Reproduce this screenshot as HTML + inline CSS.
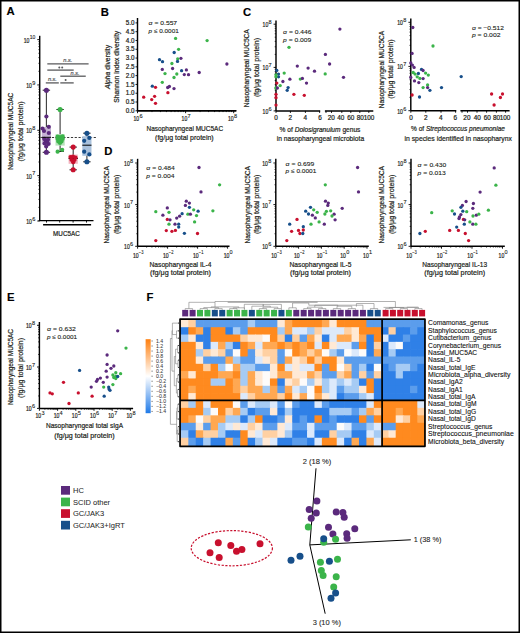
<!DOCTYPE html><html><head><meta charset="utf-8"><style>html,body{margin:0;padding:0;background:#fff;}svg{display:block;font-family:"Liberation Sans",sans-serif;}</style></head><body>
<svg width="520" height="633" viewBox="0 0 520 633">
<rect x="0" y="0" width="520" height="633" fill="#fff"/>
<g fill="#231f20" stroke-linejoin="round">
<text x="6.40" y="14.80" font-size="11.3" font-weight="bold" fill="#000" stroke="#000" stroke-width="0.15">A</text>
<text x="100.80" y="15.50" font-size="11.3" font-weight="bold" fill="#000" stroke="#000" stroke-width="0.15">B</text>
<text x="243.00" y="15.70" font-size="11.3" font-weight="bold" fill="#000" stroke="#000" stroke-width="0.15">C</text>
<text x="104.20" y="155.20" font-size="11.3" font-weight="bold" fill="#000" stroke="#000" stroke-width="0.15">D</text>
<text x="7.00" y="301.20" font-size="11.3" font-weight="bold" fill="#000" stroke="#000" stroke-width="0.15">E</text>
<text x="146.40" y="301.00" font-size="11.3" font-weight="bold" fill="#000" stroke="#000" stroke-width="0.15">F</text>
<line x1="39.70" y1="35.80" x2="39.70" y2="221.00" stroke="#000" stroke-width="1.45" />
<line x1="37.30" y1="39.60" x2="39.70" y2="39.60" stroke="#000" stroke-width="0.9" />
<line x1="37.30" y1="84.95" x2="39.70" y2="84.95" stroke="#000" stroke-width="0.9" />
<line x1="37.30" y1="130.30" x2="39.70" y2="130.30" stroke="#000" stroke-width="0.9" />
<line x1="37.30" y1="175.65" x2="39.70" y2="175.65" stroke="#000" stroke-width="0.9" />
<line x1="37.30" y1="221.00" x2="39.70" y2="221.00" stroke="#000" stroke-width="0.9" />
<line x1="38.40" y1="71.30" x2="39.70" y2="71.30" stroke="#000" stroke-width="0.75" />
<line x1="38.40" y1="63.31" x2="39.70" y2="63.31" stroke="#000" stroke-width="0.75" />
<line x1="38.40" y1="57.65" x2="39.70" y2="57.65" stroke="#000" stroke-width="0.75" />
<line x1="38.40" y1="53.25" x2="39.70" y2="53.25" stroke="#000" stroke-width="0.75" />
<line x1="38.40" y1="49.66" x2="39.70" y2="49.66" stroke="#000" stroke-width="0.75" />
<line x1="38.40" y1="46.62" x2="39.70" y2="46.62" stroke="#000" stroke-width="0.75" />
<line x1="38.40" y1="43.99" x2="39.70" y2="43.99" stroke="#000" stroke-width="0.75" />
<line x1="38.40" y1="41.68" x2="39.70" y2="41.68" stroke="#000" stroke-width="0.75" />
<line x1="38.40" y1="116.65" x2="39.70" y2="116.65" stroke="#000" stroke-width="0.75" />
<line x1="38.40" y1="108.66" x2="39.70" y2="108.66" stroke="#000" stroke-width="0.75" />
<line x1="38.40" y1="103.00" x2="39.70" y2="103.00" stroke="#000" stroke-width="0.75" />
<line x1="38.40" y1="98.60" x2="39.70" y2="98.60" stroke="#000" stroke-width="0.75" />
<line x1="38.40" y1="95.01" x2="39.70" y2="95.01" stroke="#000" stroke-width="0.75" />
<line x1="38.40" y1="91.97" x2="39.70" y2="91.97" stroke="#000" stroke-width="0.75" />
<line x1="38.40" y1="89.34" x2="39.70" y2="89.34" stroke="#000" stroke-width="0.75" />
<line x1="38.40" y1="87.03" x2="39.70" y2="87.03" stroke="#000" stroke-width="0.75" />
<line x1="38.40" y1="162.00" x2="39.70" y2="162.00" stroke="#000" stroke-width="0.75" />
<line x1="38.40" y1="154.01" x2="39.70" y2="154.01" stroke="#000" stroke-width="0.75" />
<line x1="38.40" y1="148.35" x2="39.70" y2="148.35" stroke="#000" stroke-width="0.75" />
<line x1="38.40" y1="143.95" x2="39.70" y2="143.95" stroke="#000" stroke-width="0.75" />
<line x1="38.40" y1="140.36" x2="39.70" y2="140.36" stroke="#000" stroke-width="0.75" />
<line x1="38.40" y1="137.32" x2="39.70" y2="137.32" stroke="#000" stroke-width="0.75" />
<line x1="38.40" y1="134.69" x2="39.70" y2="134.69" stroke="#000" stroke-width="0.75" />
<line x1="38.40" y1="132.38" x2="39.70" y2="132.38" stroke="#000" stroke-width="0.75" />
<line x1="38.40" y1="207.35" x2="39.70" y2="207.35" stroke="#000" stroke-width="0.75" />
<line x1="38.40" y1="199.36" x2="39.70" y2="199.36" stroke="#000" stroke-width="0.75" />
<line x1="38.40" y1="193.70" x2="39.70" y2="193.70" stroke="#000" stroke-width="0.75" />
<line x1="38.40" y1="189.30" x2="39.70" y2="189.30" stroke="#000" stroke-width="0.75" />
<line x1="38.40" y1="185.71" x2="39.70" y2="185.71" stroke="#000" stroke-width="0.75" />
<line x1="38.40" y1="182.67" x2="39.70" y2="182.67" stroke="#000" stroke-width="0.75" />
<line x1="38.40" y1="180.04" x2="39.70" y2="180.04" stroke="#000" stroke-width="0.75" />
<line x1="38.40" y1="177.73" x2="39.70" y2="177.73" stroke="#000" stroke-width="0.75" />
<text x="23.75" y="42.50" font-size="6.9" textLength="5.70" lengthAdjust="spacingAndGlyphs" stroke="#231f20" stroke-width="0.22">10</text>
<text x="29.70" y="39.40" font-size="5.0" textLength="5.60" lengthAdjust="spacingAndGlyphs" stroke="#231f20" stroke-width="0.1">10</text>
<text x="26.25" y="87.85" font-size="6.9" textLength="5.70" lengthAdjust="spacingAndGlyphs" stroke="#231f20" stroke-width="0.22">10</text>
<text x="32.20" y="84.75" font-size="5.0" textLength="3.10" lengthAdjust="spacingAndGlyphs" stroke="#231f20" stroke-width="0.1">9</text>
<text x="26.25" y="133.20" font-size="6.9" textLength="5.70" lengthAdjust="spacingAndGlyphs" stroke="#231f20" stroke-width="0.22">10</text>
<text x="32.20" y="130.10" font-size="5.0" textLength="3.10" lengthAdjust="spacingAndGlyphs" stroke="#231f20" stroke-width="0.1">8</text>
<text x="26.25" y="178.55" font-size="6.9" textLength="5.70" lengthAdjust="spacingAndGlyphs" stroke="#231f20" stroke-width="0.22">10</text>
<text x="32.20" y="175.45" font-size="5.0" textLength="3.10" lengthAdjust="spacingAndGlyphs" stroke="#231f20" stroke-width="0.1">7</text>
<text x="26.25" y="223.90" font-size="6.9" textLength="5.70" lengthAdjust="spacingAndGlyphs" stroke="#231f20" stroke-width="0.22">10</text>
<text x="32.20" y="220.80" font-size="5.0" textLength="3.10" lengthAdjust="spacingAndGlyphs" stroke="#231f20" stroke-width="0.1">6</text>
<text x="13.40" y="131.20" font-size="7.8" text-anchor="middle" textLength="77.00" lengthAdjust="spacingAndGlyphs" transform="rotate(-90 13.40 131.20)" stroke="#231f20" stroke-width="0.22">Nasopharyngeal MUC5AC</text>
<text x="23.30" y="131.40" font-size="7.8" text-anchor="middle" textLength="60.00" lengthAdjust="spacingAndGlyphs" transform="rotate(-90 23.30 131.40)" stroke="#231f20" stroke-width="0.22">(fg/μg total protein)</text>
<line x1="38.60" y1="220.60" x2="93.50" y2="220.60" stroke="#000" stroke-width="1.45" />
<line x1="46.50" y1="220.60" x2="46.50" y2="222.60" stroke="#000" stroke-width="0.9" />
<line x1="59.70" y1="220.60" x2="59.70" y2="222.60" stroke="#000" stroke-width="0.9" />
<line x1="73.10" y1="220.60" x2="73.10" y2="222.60" stroke="#000" stroke-width="0.9" />
<line x1="86.50" y1="220.60" x2="86.50" y2="222.60" stroke="#000" stroke-width="0.9" />
<line x1="43.10" y1="224.80" x2="91.10" y2="224.80" stroke="#000" stroke-width="1.4" />
<text x="66.40" y="235.60" font-size="7.2" text-anchor="middle" textLength="26.60" lengthAdjust="spacingAndGlyphs" stroke="#231f20" stroke-width="0.22">MUC5AC</text>
<line x1="47.30" y1="63.80" x2="88.60" y2="63.80" stroke="#58595b" stroke-width="1.3" />
<line x1="47.30" y1="70.10" x2="73.70" y2="70.10" stroke="#58595b" stroke-width="1.3" />
<line x1="60.30" y1="76.20" x2="85.75" y2="76.20" stroke="#58595b" stroke-width="1.3" />
<line x1="45.80" y1="82.90" x2="58.80" y2="82.90" stroke="#58595b" stroke-width="1.3" />
<line x1="60.30" y1="82.90" x2="73.70" y2="82.90" stroke="#58595b" stroke-width="1.3" />
<text x="67.80" y="62.20" font-size="6.0" text-anchor="middle" textLength="9.00" lengthAdjust="spacingAndGlyphs" font-style="italic" fill="#58595b" stroke="#58595b" stroke-width="0.22">n.s.</text>
<text x="75.10" y="74.70" font-size="6.0" text-anchor="middle" textLength="9.00" lengthAdjust="spacingAndGlyphs" font-style="italic" fill="#58595b" stroke="#58595b" stroke-width="0.22">n.s.</text>
<text x="52.40" y="81.20" font-size="6.0" text-anchor="middle" textLength="9.00" lengthAdjust="spacingAndGlyphs" font-style="italic" fill="#58595b" stroke="#58595b" stroke-width="0.22">n.s.</text>
<circle cx="59.3" cy="67.6" r="1.0" fill="#58595b"/>
<circle cx="62.2" cy="67.6" r="1.0" fill="#58595b"/>
<circle cx="65.6" cy="79.9" r="1.0" fill="#58595b"/>
<line x1="40.50" y1="137.50" x2="97.00" y2="137.50" stroke="#222" stroke-width="0.9" stroke-dasharray="2.2 1.6"/>
<line x1="46.40" y1="90.20" x2="46.40" y2="152.30" stroke="#3a3a3a" stroke-width="1.1" />
<line x1="42.70" y1="90.20" x2="50.10" y2="90.20" stroke="#222" stroke-width="1.0" />
<line x1="42.70" y1="152.30" x2="50.10" y2="152.30" stroke="#222" stroke-width="1.0" />
<rect x="41.80" y="127.00" width="9.2" height="17.50" fill="#c6b3d4"/>
<line x1="60.10" y1="109.50" x2="60.10" y2="151.50" stroke="#3a3a3a" stroke-width="1.1" />
<line x1="56.40" y1="109.50" x2="63.80" y2="109.50" stroke="#222" stroke-width="1.0" />
<line x1="56.40" y1="151.50" x2="63.80" y2="151.50" stroke="#222" stroke-width="1.0" />
<rect x="55.50" y="134.20" width="9.2" height="11.40" fill="#b7e2bb"/>
<line x1="55.50" y1="137.80" x2="64.70" y2="137.80" stroke="#000" stroke-width="1.0" />
<line x1="73.20" y1="147.10" x2="73.20" y2="169.80" stroke="#3a3a3a" stroke-width="1.1" />
<line x1="69.50" y1="147.10" x2="76.90" y2="147.10" stroke="#222" stroke-width="1.0" />
<line x1="69.50" y1="169.80" x2="76.90" y2="169.80" stroke="#222" stroke-width="1.0" />
<rect x="68.60" y="154.60" width="9.2" height="9.20" fill="#f2b3bf"/>
<line x1="68.60" y1="158.50" x2="77.80" y2="158.50" stroke="#000" stroke-width="1.0" />
<line x1="86.90" y1="133.20" x2="86.90" y2="161.80" stroke="#3a3a3a" stroke-width="1.1" />
<line x1="83.20" y1="133.20" x2="90.60" y2="133.20" stroke="#222" stroke-width="1.0" />
<line x1="83.20" y1="161.80" x2="90.60" y2="161.80" stroke="#222" stroke-width="1.0" />
<rect x="82.30" y="136.20" width="9.2" height="19.60" fill="#a9c1dc"/>
<circle cx="46.40" cy="116.50" r="2.1" fill="#5b2a7c"/>
<circle cx="42.50" cy="128.50" r="2.1" fill="#5b2a7c"/>
<circle cx="44.00" cy="131.00" r="2.1" fill="#5b2a7c"/>
<circle cx="48.80" cy="126.80" r="2.1" fill="#5b2a7c"/>
<circle cx="48.80" cy="133.00" r="2.1" fill="#5b2a7c"/>
<circle cx="45.50" cy="140.50" r="2.1" fill="#5b2a7c"/>
<circle cx="47.30" cy="142.00" r="2.1" fill="#5b2a7c"/>
<circle cx="44.60" cy="143.50" r="2.1" fill="#5b2a7c"/>
<circle cx="48.50" cy="144.00" r="2.1" fill="#5b2a7c"/>
<circle cx="46.20" cy="146.50" r="2.1" fill="#5b2a7c"/>
<circle cx="44.20" cy="138.80" r="2.1" fill="#5b2a7c"/>
<circle cx="48.00" cy="139.50" r="2.1" fill="#5b2a7c"/>
<circle cx="46.40" cy="90.20" r="2.55" fill="#5b2a7c"/>
<circle cx="46.40" cy="152.30" r="2.55" fill="#5b2a7c"/>
<circle cx="57.60" cy="136.60" r="2.1" fill="#3bb44a"/>
<circle cx="60.00" cy="137.20" r="2.1" fill="#3bb44a"/>
<circle cx="62.60" cy="136.40" r="2.1" fill="#3bb44a"/>
<circle cx="57.60" cy="139.00" r="2.1" fill="#3bb44a"/>
<circle cx="60.40" cy="139.80" r="2.1" fill="#3bb44a"/>
<circle cx="62.60" cy="139.00" r="2.1" fill="#3bb44a"/>
<circle cx="58.30" cy="141.40" r="2.1" fill="#3bb44a"/>
<circle cx="61.50" cy="141.50" r="2.1" fill="#3bb44a"/>
<circle cx="60.00" cy="143.00" r="2.1" fill="#3bb44a"/>
<circle cx="57.60" cy="151.70" r="2.1" fill="#3bb44a"/>
<circle cx="62.20" cy="149.80" r="2.1" fill="#3bb44a"/>
<circle cx="60.10" cy="109.50" r="2.55" fill="#3bb44a"/>
<circle cx="70.50" cy="157.00" r="2.1" fill="#c8102e"/>
<circle cx="73.00" cy="156.50" r="2.1" fill="#c8102e"/>
<circle cx="75.50" cy="157.50" r="2.1" fill="#c8102e"/>
<circle cx="71.50" cy="159.80" r="2.1" fill="#c8102e"/>
<circle cx="74.50" cy="160.00" r="2.1" fill="#c8102e"/>
<circle cx="73.20" cy="162.30" r="2.1" fill="#c8102e"/>
<circle cx="73.20" cy="147.10" r="2.55" fill="#c8102e"/>
<circle cx="73.20" cy="169.80" r="2.55" fill="#c8102e"/>
<circle cx="89.30" cy="137.90" r="2.1" fill="#174f8a"/>
<circle cx="84.20" cy="140.80" r="2.1" fill="#174f8a"/>
<circle cx="84.20" cy="151.70" r="2.1" fill="#174f8a"/>
<circle cx="89.30" cy="154.40" r="2.1" fill="#174f8a"/>
<circle cx="86.90" cy="133.20" r="2.55" fill="#174f8a"/>
<circle cx="86.90" cy="161.80" r="2.55" fill="#174f8a"/>
<line x1="41.80" y1="137.30" x2="51.00" y2="137.30" stroke="#000" stroke-width="1.0" />
<line x1="82.30" y1="145.20" x2="91.50" y2="145.20" stroke="#000" stroke-width="1.0" />
<line x1="137.50" y1="18.00" x2="137.50" y2="110.80" stroke="#000" stroke-width="1.45" />
<line x1="137.50" y1="110.80" x2="236.30" y2="110.80" stroke="#000" stroke-width="1.45" />
<line x1="135.50" y1="110.80" x2="137.50" y2="110.80" stroke="#000" stroke-width="0.9" />
<text x="134.60" y="113.00" font-size="6.3" text-anchor="end" stroke="#231f20" stroke-width="0.22">0.0</text>
<line x1="135.50" y1="102.01" x2="137.50" y2="102.01" stroke="#000" stroke-width="0.9" />
<text x="134.60" y="104.21" font-size="6.3" text-anchor="end" stroke="#231f20" stroke-width="0.22">0.5</text>
<line x1="135.50" y1="93.22" x2="137.50" y2="93.22" stroke="#000" stroke-width="0.9" />
<text x="134.60" y="95.42" font-size="6.3" text-anchor="end" stroke="#231f20" stroke-width="0.22">1.0</text>
<line x1="135.50" y1="84.43" x2="137.50" y2="84.43" stroke="#000" stroke-width="0.9" />
<text x="134.60" y="86.63" font-size="6.3" text-anchor="end" stroke="#231f20" stroke-width="0.22">1.5</text>
<line x1="135.50" y1="75.64" x2="137.50" y2="75.64" stroke="#000" stroke-width="0.9" />
<text x="134.60" y="77.84" font-size="6.3" text-anchor="end" stroke="#231f20" stroke-width="0.22">2.0</text>
<line x1="135.50" y1="66.85" x2="137.50" y2="66.85" stroke="#000" stroke-width="0.9" />
<text x="134.60" y="69.05" font-size="6.3" text-anchor="end" stroke="#231f20" stroke-width="0.22">2.5</text>
<line x1="135.50" y1="58.06" x2="137.50" y2="58.06" stroke="#000" stroke-width="0.9" />
<text x="134.60" y="60.26" font-size="6.3" text-anchor="end" stroke="#231f20" stroke-width="0.22">3.0</text>
<line x1="135.50" y1="49.27" x2="137.50" y2="49.27" stroke="#000" stroke-width="0.9" />
<text x="134.60" y="51.47" font-size="6.3" text-anchor="end" stroke="#231f20" stroke-width="0.22">3.5</text>
<line x1="135.50" y1="40.48" x2="137.50" y2="40.48" stroke="#000" stroke-width="0.9" />
<text x="134.60" y="42.68" font-size="6.3" text-anchor="end" stroke="#231f20" stroke-width="0.22">4.0</text>
<line x1="135.50" y1="31.69" x2="137.50" y2="31.69" stroke="#000" stroke-width="0.9" />
<text x="134.60" y="33.89" font-size="6.3" text-anchor="end" stroke="#231f20" stroke-width="0.22">4.5</text>
<line x1="135.50" y1="22.90" x2="137.50" y2="22.90" stroke="#000" stroke-width="0.9" />
<text x="134.60" y="25.10" font-size="6.3" text-anchor="end" stroke="#231f20" stroke-width="0.22">5.0</text>
<line x1="137.50" y1="110.80" x2="236.30" y2="110.80" stroke="#000" stroke-width="1.45" />
<line x1="137.50" y1="110.80" x2="137.50" y2="113.20" stroke="#000" stroke-width="0.9" />
<line x1="185.60" y1="110.80" x2="185.60" y2="113.20" stroke="#000" stroke-width="0.9" />
<line x1="233.70" y1="110.80" x2="233.70" y2="113.20" stroke="#000" stroke-width="0.9" />
<line x1="151.98" y1="110.80" x2="151.98" y2="112.10" stroke="#000" stroke-width="0.75" />
<line x1="160.45" y1="110.80" x2="160.45" y2="112.10" stroke="#000" stroke-width="0.75" />
<line x1="166.46" y1="110.80" x2="166.46" y2="112.10" stroke="#000" stroke-width="0.75" />
<line x1="171.12" y1="110.80" x2="171.12" y2="112.10" stroke="#000" stroke-width="0.75" />
<line x1="174.93" y1="110.80" x2="174.93" y2="112.10" stroke="#000" stroke-width="0.75" />
<line x1="178.15" y1="110.80" x2="178.15" y2="112.10" stroke="#000" stroke-width="0.75" />
<line x1="180.94" y1="110.80" x2="180.94" y2="112.10" stroke="#000" stroke-width="0.75" />
<line x1="183.40" y1="110.80" x2="183.40" y2="112.10" stroke="#000" stroke-width="0.75" />
<line x1="200.08" y1="110.80" x2="200.08" y2="112.10" stroke="#000" stroke-width="0.75" />
<line x1="208.55" y1="110.80" x2="208.55" y2="112.10" stroke="#000" stroke-width="0.75" />
<line x1="214.56" y1="110.80" x2="214.56" y2="112.10" stroke="#000" stroke-width="0.75" />
<line x1="219.22" y1="110.80" x2="219.22" y2="112.10" stroke="#000" stroke-width="0.75" />
<line x1="223.03" y1="110.80" x2="223.03" y2="112.10" stroke="#000" stroke-width="0.75" />
<line x1="226.25" y1="110.80" x2="226.25" y2="112.10" stroke="#000" stroke-width="0.75" />
<line x1="229.04" y1="110.80" x2="229.04" y2="112.10" stroke="#000" stroke-width="0.75" />
<line x1="231.50" y1="110.80" x2="231.50" y2="112.10" stroke="#000" stroke-width="0.75" />
<text x="133.47" y="120.60" font-size="6.9" textLength="5.70" lengthAdjust="spacingAndGlyphs" stroke="#231f20" stroke-width="0.22">10</text>
<text x="139.42" y="117.50" font-size="5.0" textLength="3.10" lengthAdjust="spacingAndGlyphs" stroke="#231f20" stroke-width="0.1">6</text>
<text x="181.57" y="120.60" font-size="6.9" textLength="5.70" lengthAdjust="spacingAndGlyphs" stroke="#231f20" stroke-width="0.22">10</text>
<text x="187.52" y="117.50" font-size="5.0" textLength="3.10" lengthAdjust="spacingAndGlyphs" stroke="#231f20" stroke-width="0.1">7</text>
<text x="227.97" y="120.60" font-size="6.9" textLength="5.70" lengthAdjust="spacingAndGlyphs" stroke="#231f20" stroke-width="0.22">10</text>
<text x="233.92" y="117.50" font-size="5.0" textLength="3.10" lengthAdjust="spacingAndGlyphs" stroke="#231f20" stroke-width="0.1">8</text>
<text x="184.80" y="131.40" font-size="7.8" text-anchor="middle" textLength="76.60" lengthAdjust="spacingAndGlyphs" stroke="#231f20" stroke-width="0.22">Nasopharyngeal MUC5AC</text>
<text x="184.40" y="140.30" font-size="7.8" text-anchor="middle" textLength="58.60" lengthAdjust="spacingAndGlyphs" stroke="#231f20" stroke-width="0.22">(fg/μg total protein)</text>
<text x="110.00" y="67.00" font-size="6.8" text-anchor="middle" textLength="44.20" lengthAdjust="spacingAndGlyphs" transform="rotate(-90 110.00 67.00)" stroke="#231f20" stroke-width="0.22"><tspan font-style="italic">Alpha</tspan> diversity</text>
<text x="119.20" y="66.80" font-size="6.8" text-anchor="middle" textLength="71.90" lengthAdjust="spacingAndGlyphs" transform="rotate(-90 119.20 66.80)" stroke="#231f20" stroke-width="0.22">Shannon index diversity</text>
<text x="148.60" y="25.40" font-size="6.2" textLength="28.50" lengthAdjust="spacingAndGlyphs" stroke="#231f20" stroke-width="0.12">σ = 0.557</text>
<text x="148.60" y="33.30" font-size="6.2" textLength="30.20" lengthAdjust="spacingAndGlyphs" stroke="#231f20" stroke-width="0.12"><tspan font-style="italic">p</tspan> ≤ 0.0001</text>
<circle cx="175.60" cy="38.40" r="1.65" fill="#3bb44a"/>
<circle cx="178.60" cy="49.30" r="1.65" fill="#3bb44a"/>
<circle cx="174.20" cy="52.50" r="1.65" fill="#174f8a"/>
<circle cx="180.90" cy="58.30" r="1.65" fill="#5b2a7c"/>
<circle cx="177.70" cy="58.80" r="1.65" fill="#3bb44a"/>
<circle cx="159.50" cy="59.70" r="1.65" fill="#174f8a"/>
<circle cx="162.50" cy="61.70" r="1.65" fill="#174f8a"/>
<circle cx="177.50" cy="61.40" r="1.65" fill="#174f8a"/>
<circle cx="171.90" cy="63.50" r="1.65" fill="#3bb44a"/>
<circle cx="162.30" cy="69.40" r="1.65" fill="#5b2a7c"/>
<circle cx="172.60" cy="68.50" r="1.65" fill="#5b2a7c"/>
<circle cx="181.60" cy="70.70" r="1.65" fill="#174f8a"/>
<circle cx="186.40" cy="69.90" r="1.65" fill="#5b2a7c"/>
<circle cx="165.00" cy="73.60" r="1.65" fill="#3bb44a"/>
<circle cx="176.80" cy="74.00" r="1.65" fill="#3bb44a"/>
<circle cx="184.30" cy="74.60" r="1.65" fill="#5b2a7c"/>
<circle cx="188.50" cy="74.70" r="1.65" fill="#5b2a7c"/>
<circle cx="174.00" cy="77.50" r="1.65" fill="#3bb44a"/>
<circle cx="162.30" cy="82.30" r="1.65" fill="#3bb44a"/>
<circle cx="152.30" cy="86.20" r="1.65" fill="#174f8a"/>
<circle cx="155.50" cy="87.30" r="1.65" fill="#c8102e"/>
<circle cx="167.70" cy="87.50" r="1.65" fill="#5b2a7c"/>
<circle cx="169.40" cy="86.50" r="1.65" fill="#5b2a7c"/>
<circle cx="174.00" cy="88.60" r="1.65" fill="#5b2a7c"/>
<circle cx="167.90" cy="92.70" r="1.65" fill="#c8102e"/>
<circle cx="143.70" cy="97.20" r="1.65" fill="#c8102e"/>
<circle cx="154.60" cy="96.30" r="1.65" fill="#c8102e"/>
<circle cx="151.70" cy="99.60" r="1.65" fill="#c8102e"/>
<circle cx="155.50" cy="103.30" r="1.65" fill="#c8102e"/>
<circle cx="207.10" cy="40.60" r="1.65" fill="#3bb44a"/>
<circle cx="226.90" cy="64.00" r="1.65" fill="#5b2a7c"/>
<circle cx="199.20" cy="72.50" r="1.65" fill="#5b2a7c"/>
<line x1="276.00" y1="20.40" x2="276.00" y2="110.90" stroke="#000" stroke-width="1.45" />
<line x1="273.60" y1="24.20" x2="276.00" y2="24.20" stroke="#000" stroke-width="0.9" />
<line x1="273.60" y1="67.40" x2="276.00" y2="67.40" stroke="#000" stroke-width="0.9" />
<line x1="273.60" y1="110.90" x2="276.00" y2="110.90" stroke="#000" stroke-width="0.9" />
<line x1="274.70" y1="54.40" x2="276.00" y2="54.40" stroke="#000" stroke-width="0.75" />
<line x1="274.70" y1="46.79" x2="276.00" y2="46.79" stroke="#000" stroke-width="0.75" />
<line x1="274.70" y1="41.39" x2="276.00" y2="41.39" stroke="#000" stroke-width="0.75" />
<line x1="274.70" y1="37.20" x2="276.00" y2="37.20" stroke="#000" stroke-width="0.75" />
<line x1="274.70" y1="33.78" x2="276.00" y2="33.78" stroke="#000" stroke-width="0.75" />
<line x1="274.70" y1="30.89" x2="276.00" y2="30.89" stroke="#000" stroke-width="0.75" />
<line x1="274.70" y1="28.39" x2="276.00" y2="28.39" stroke="#000" stroke-width="0.75" />
<line x1="274.70" y1="26.18" x2="276.00" y2="26.18" stroke="#000" stroke-width="0.75" />
<line x1="274.70" y1="97.81" x2="276.00" y2="97.81" stroke="#000" stroke-width="0.75" />
<line x1="274.70" y1="90.15" x2="276.00" y2="90.15" stroke="#000" stroke-width="0.75" />
<line x1="274.70" y1="84.71" x2="276.00" y2="84.71" stroke="#000" stroke-width="0.75" />
<line x1="274.70" y1="80.49" x2="276.00" y2="80.49" stroke="#000" stroke-width="0.75" />
<line x1="274.70" y1="77.05" x2="276.00" y2="77.05" stroke="#000" stroke-width="0.75" />
<line x1="274.70" y1="74.14" x2="276.00" y2="74.14" stroke="#000" stroke-width="0.75" />
<line x1="274.70" y1="71.62" x2="276.00" y2="71.62" stroke="#000" stroke-width="0.75" />
<line x1="274.70" y1="69.39" x2="276.00" y2="69.39" stroke="#000" stroke-width="0.75" />
<text x="262.55" y="27.10" font-size="6.9" textLength="5.70" lengthAdjust="spacingAndGlyphs" stroke="#231f20" stroke-width="0.22">10</text>
<text x="268.50" y="24.00" font-size="5.0" textLength="3.10" lengthAdjust="spacingAndGlyphs" stroke="#231f20" stroke-width="0.1">8</text>
<text x="262.55" y="70.30" font-size="6.9" textLength="5.70" lengthAdjust="spacingAndGlyphs" stroke="#231f20" stroke-width="0.22">10</text>
<text x="268.50" y="67.20" font-size="5.0" textLength="3.10" lengthAdjust="spacingAndGlyphs" stroke="#231f20" stroke-width="0.1">7</text>
<text x="262.55" y="113.80" font-size="6.9" textLength="5.70" lengthAdjust="spacingAndGlyphs" stroke="#231f20" stroke-width="0.22">10</text>
<text x="268.50" y="110.70" font-size="5.0" textLength="3.10" lengthAdjust="spacingAndGlyphs" stroke="#231f20" stroke-width="0.1">6</text>
<line x1="276.00" y1="110.90" x2="320.20" y2="110.90" stroke="#000" stroke-width="1.45" />
<line x1="324.90" y1="110.90" x2="373.30" y2="110.90" stroke="#000" stroke-width="1.45" />
<line x1="276.00" y1="110.90" x2="276.00" y2="112.90" stroke="#000" stroke-width="0.9" />
<line x1="290.40" y1="110.90" x2="290.40" y2="112.90" stroke="#000" stroke-width="0.9" />
<line x1="305.40" y1="110.90" x2="305.40" y2="112.90" stroke="#000" stroke-width="0.9" />
<line x1="319.60" y1="110.90" x2="319.60" y2="112.90" stroke="#000" stroke-width="0.9" />
<line x1="326.00" y1="110.90" x2="326.00" y2="112.90" stroke="#000" stroke-width="0.9" />
<line x1="331.50" y1="110.90" x2="331.50" y2="112.90" stroke="#000" stroke-width="0.9" />
<line x1="341.80" y1="110.90" x2="341.80" y2="112.90" stroke="#000" stroke-width="0.9" />
<line x1="350.80" y1="110.90" x2="350.80" y2="112.90" stroke="#000" stroke-width="0.9" />
<line x1="359.80" y1="110.90" x2="359.80" y2="112.90" stroke="#000" stroke-width="0.9" />
<line x1="368.80" y1="110.90" x2="368.80" y2="112.90" stroke="#000" stroke-width="0.9" />
<text x="276.00" y="120.00" font-size="6.4" text-anchor="middle" stroke="#231f20" stroke-width="0.22">0</text>
<text x="290.40" y="120.00" font-size="6.4" text-anchor="middle" stroke="#231f20" stroke-width="0.22">2</text>
<text x="305.30" y="120.00" font-size="6.4" text-anchor="middle" stroke="#231f20" stroke-width="0.22">4</text>
<text x="320.00" y="120.00" font-size="6.4" text-anchor="middle" stroke="#231f20" stroke-width="0.22">6</text>
<text x="331.20" y="120.00" font-size="6.4" text-anchor="middle" stroke="#231f20" stroke-width="0.22">20</text>
<text x="340.80" y="120.00" font-size="6.4" text-anchor="middle" stroke="#231f20" stroke-width="0.22">40</text>
<text x="350.80" y="120.00" font-size="6.4" text-anchor="middle" stroke="#231f20" stroke-width="0.22">60</text>
<text x="360.20" y="120.00" font-size="6.4" text-anchor="middle" stroke="#231f20" stroke-width="0.22">80</text>
<text x="369.00" y="120.00" font-size="6.4" text-anchor="middle" stroke="#231f20" stroke-width="0.22">100</text>
<text x="320.00" y="131.70" font-size="7.8" text-anchor="middle" textLength="80.80" lengthAdjust="spacingAndGlyphs" stroke="#231f20" stroke-width="0.22">% of <tspan font-style="italic">Dolosigranulum</tspan> genus</text>
<text x="320.40" y="140.80" font-size="7.8" text-anchor="middle" textLength="87.50" lengthAdjust="spacingAndGlyphs" stroke="#231f20" stroke-width="0.22">in nasopharyngeal microbiota</text>
<text x="249.40" y="68.20" font-size="7.8" text-anchor="middle" textLength="78.00" lengthAdjust="spacingAndGlyphs" transform="rotate(-90 249.40 68.20)" stroke="#231f20" stroke-width="0.22">Nasopharyngeal MUC5CA</text>
<text x="258.90" y="67.50" font-size="7.8" text-anchor="middle" textLength="59.20" lengthAdjust="spacingAndGlyphs" transform="rotate(-90 258.90 67.50)" stroke="#231f20" stroke-width="0.22">(fg/μg total protein)</text>
<text x="283.10" y="33.50" font-size="6.2" textLength="28.40" lengthAdjust="spacingAndGlyphs" stroke="#231f20" stroke-width="0.12">σ = 0.446</text>
<text x="283.10" y="41.50" font-size="6.2" textLength="28.10" lengthAdjust="spacingAndGlyphs" stroke="#231f20" stroke-width="0.12"><tspan font-style="italic">p</tspan> = 0.009</text>
<circle cx="289.00" cy="47.30" r="1.65" fill="#3bb44a"/>
<circle cx="325.40" cy="54.40" r="1.65" fill="#5b2a7c"/>
<circle cx="329.60" cy="64.00" r="1.65" fill="#5b2a7c"/>
<circle cx="297.30" cy="66.10" r="1.65" fill="#5b2a7c"/>
<circle cx="308.10" cy="68.10" r="1.65" fill="#5b2a7c"/>
<circle cx="314.50" cy="71.20" r="1.65" fill="#5b2a7c"/>
<circle cx="325.20" cy="73.90" r="1.65" fill="#3bb44a"/>
<circle cx="284.20" cy="73.10" r="1.65" fill="#3bb44a"/>
<circle cx="276.80" cy="70.40" r="1.65" fill="#174f8a"/>
<circle cx="278.50" cy="74.10" r="1.65" fill="#174f8a"/>
<circle cx="278.50" cy="76.80" r="1.65" fill="#174f8a"/>
<circle cx="276.00" cy="74.80" r="1.65" fill="#3bb44a"/>
<circle cx="276.00" cy="76.80" r="1.65" fill="#3bb44a"/>
<circle cx="289.90" cy="79.20" r="1.65" fill="#5b2a7c"/>
<circle cx="300.30" cy="79.10" r="1.65" fill="#3bb44a"/>
<circle cx="302.40" cy="78.40" r="1.65" fill="#5b2a7c"/>
<circle cx="282.90" cy="81.50" r="1.65" fill="#5b2a7c"/>
<circle cx="306.50" cy="83.10" r="1.65" fill="#5b2a7c"/>
<circle cx="276.80" cy="83.10" r="1.65" fill="#c8102e"/>
<circle cx="280.20" cy="85.60" r="1.65" fill="#3bb44a"/>
<circle cx="275.80" cy="88.00" r="1.65" fill="#3bb44a"/>
<circle cx="277.40" cy="88.00" r="1.65" fill="#5b2a7c"/>
<circle cx="288.10" cy="87.60" r="1.65" fill="#174f8a"/>
<circle cx="287.20" cy="90.30" r="1.65" fill="#174f8a"/>
<circle cx="293.90" cy="94.30" r="1.65" fill="#c8102e"/>
<circle cx="304.30" cy="95.30" r="1.65" fill="#c8102e"/>
<circle cx="276.00" cy="94.30" r="1.65" fill="#c8102e"/>
<circle cx="276.00" cy="97.70" r="1.65" fill="#c8102e"/>
<circle cx="276.00" cy="105.10" r="1.65" fill="#c8102e"/>
<circle cx="339.90" cy="29.10" r="1.65" fill="#5b2a7c"/>
<circle cx="343.50" cy="77.30" r="1.65" fill="#5b2a7c"/>
<line x1="410.80" y1="18.40" x2="410.80" y2="110.70" stroke="#000" stroke-width="1.45" />
<line x1="408.40" y1="22.30" x2="410.80" y2="22.30" stroke="#000" stroke-width="0.9" />
<line x1="408.40" y1="66.40" x2="410.80" y2="66.40" stroke="#000" stroke-width="0.9" />
<line x1="408.40" y1="110.70" x2="410.80" y2="110.70" stroke="#000" stroke-width="0.9" />
<line x1="409.50" y1="53.12" x2="410.80" y2="53.12" stroke="#000" stroke-width="0.75" />
<line x1="409.50" y1="45.36" x2="410.80" y2="45.36" stroke="#000" stroke-width="0.75" />
<line x1="409.50" y1="39.85" x2="410.80" y2="39.85" stroke="#000" stroke-width="0.75" />
<line x1="409.50" y1="35.58" x2="410.80" y2="35.58" stroke="#000" stroke-width="0.75" />
<line x1="409.50" y1="32.08" x2="410.80" y2="32.08" stroke="#000" stroke-width="0.75" />
<line x1="409.50" y1="29.13" x2="410.80" y2="29.13" stroke="#000" stroke-width="0.75" />
<line x1="409.50" y1="26.57" x2="410.80" y2="26.57" stroke="#000" stroke-width="0.75" />
<line x1="409.50" y1="24.32" x2="410.80" y2="24.32" stroke="#000" stroke-width="0.75" />
<line x1="409.50" y1="97.36" x2="410.80" y2="97.36" stroke="#000" stroke-width="0.75" />
<line x1="409.50" y1="89.56" x2="410.80" y2="89.56" stroke="#000" stroke-width="0.75" />
<line x1="409.50" y1="84.03" x2="410.80" y2="84.03" stroke="#000" stroke-width="0.75" />
<line x1="409.50" y1="79.74" x2="410.80" y2="79.74" stroke="#000" stroke-width="0.75" />
<line x1="409.50" y1="76.23" x2="410.80" y2="76.23" stroke="#000" stroke-width="0.75" />
<line x1="409.50" y1="73.26" x2="410.80" y2="73.26" stroke="#000" stroke-width="0.75" />
<line x1="409.50" y1="70.69" x2="410.80" y2="70.69" stroke="#000" stroke-width="0.75" />
<line x1="409.50" y1="68.43" x2="410.80" y2="68.43" stroke="#000" stroke-width="0.75" />
<text x="397.25" y="25.20" font-size="6.9" textLength="5.70" lengthAdjust="spacingAndGlyphs" stroke="#231f20" stroke-width="0.22">10</text>
<text x="403.20" y="22.10" font-size="5.0" textLength="3.10" lengthAdjust="spacingAndGlyphs" stroke="#231f20" stroke-width="0.1">8</text>
<text x="397.25" y="69.30" font-size="6.9" textLength="5.70" lengthAdjust="spacingAndGlyphs" stroke="#231f20" stroke-width="0.22">10</text>
<text x="403.20" y="66.20" font-size="5.0" textLength="3.10" lengthAdjust="spacingAndGlyphs" stroke="#231f20" stroke-width="0.1">7</text>
<text x="397.25" y="113.60" font-size="6.9" textLength="5.70" lengthAdjust="spacingAndGlyphs" stroke="#231f20" stroke-width="0.22">10</text>
<text x="403.20" y="110.50" font-size="5.0" textLength="3.10" lengthAdjust="spacingAndGlyphs" stroke="#231f20" stroke-width="0.1">6</text>
<line x1="410.80" y1="110.70" x2="456.30" y2="110.70" stroke="#000" stroke-width="1.45" />
<line x1="460.40" y1="110.70" x2="509.60" y2="110.70" stroke="#000" stroke-width="1.45" />
<line x1="410.80" y1="110.70" x2="410.80" y2="112.70" stroke="#000" stroke-width="0.9" />
<line x1="425.80" y1="110.70" x2="425.80" y2="112.70" stroke="#000" stroke-width="0.9" />
<line x1="441.00" y1="110.70" x2="441.00" y2="112.70" stroke="#000" stroke-width="0.9" />
<line x1="455.60" y1="110.70" x2="455.60" y2="112.70" stroke="#000" stroke-width="0.9" />
<line x1="462.00" y1="110.70" x2="462.00" y2="112.70" stroke="#000" stroke-width="0.9" />
<line x1="467.50" y1="110.70" x2="467.50" y2="112.70" stroke="#000" stroke-width="0.9" />
<line x1="477.00" y1="110.70" x2="477.00" y2="112.70" stroke="#000" stroke-width="0.9" />
<line x1="486.60" y1="110.70" x2="486.60" y2="112.70" stroke="#000" stroke-width="0.9" />
<line x1="496.40" y1="110.70" x2="496.40" y2="112.70" stroke="#000" stroke-width="0.9" />
<line x1="505.60" y1="110.70" x2="505.60" y2="112.70" stroke="#000" stroke-width="0.9" />
<text x="411.00" y="120.00" font-size="6.4" text-anchor="middle" stroke="#231f20" stroke-width="0.22">0</text>
<text x="425.80" y="120.00" font-size="6.4" text-anchor="middle" stroke="#231f20" stroke-width="0.22">2</text>
<text x="440.80" y="120.00" font-size="6.4" text-anchor="middle" stroke="#231f20" stroke-width="0.22">4</text>
<text x="455.40" y="120.00" font-size="6.4" text-anchor="middle" stroke="#231f20" stroke-width="0.22">6</text>
<text x="466.90" y="120.00" font-size="6.4" text-anchor="middle" stroke="#231f20" stroke-width="0.22">20</text>
<text x="477.30" y="120.00" font-size="6.4" text-anchor="middle" stroke="#231f20" stroke-width="0.22">40</text>
<text x="487.20" y="120.00" font-size="6.4" text-anchor="middle" stroke="#231f20" stroke-width="0.22">60</text>
<text x="496.50" y="120.00" font-size="6.4" text-anchor="middle" stroke="#231f20" stroke-width="0.22">80</text>
<text x="505.00" y="120.00" font-size="6.4" text-anchor="middle" stroke="#231f20" stroke-width="0.22">100</text>
<text x="458.00" y="131.40" font-size="7.8" text-anchor="middle" textLength="93.90" lengthAdjust="spacingAndGlyphs" stroke="#231f20" stroke-width="0.22">% of <tspan font-style="italic">Streptococcus pneumoniae</tspan></text>
<text x="458.20" y="140.90" font-size="7.8" text-anchor="middle" textLength="107.30" lengthAdjust="spacingAndGlyphs" stroke="#231f20" stroke-width="0.22">in species identified in nasopharynx</text>
<text x="383.60" y="69.50" font-size="7.8" text-anchor="middle" textLength="77.40" lengthAdjust="spacingAndGlyphs" transform="rotate(-90 383.60 69.50)" stroke="#231f20" stroke-width="0.22">Nasopharyngeal MUC5CA</text>
<text x="393.20" y="69.10" font-size="7.8" text-anchor="middle" textLength="59.20" lengthAdjust="spacingAndGlyphs" transform="rotate(-90 393.20 69.10)" stroke="#231f20" stroke-width="0.22">(fg/μg total protein)</text>
<text x="471.90" y="29.60" font-size="6.2" textLength="32.00" lengthAdjust="spacingAndGlyphs" stroke="#231f20" stroke-width="0.12">σ = −0.512</text>
<text x="471.90" y="37.30" font-size="6.2" textLength="28.60" lengthAdjust="spacingAndGlyphs" stroke="#231f20" stroke-width="0.12"><tspan font-style="italic">p</tspan> = 0.002</text>
<circle cx="412.80" cy="27.50" r="1.65" fill="#5b2a7c"/>
<circle cx="433.00" cy="46.00" r="1.65" fill="#3bb44a"/>
<circle cx="412.10" cy="53.40" r="1.65" fill="#5b2a7c"/>
<circle cx="410.80" cy="63.00" r="1.65" fill="#5b2a7c"/>
<circle cx="412.40" cy="65.10" r="1.65" fill="#5b2a7c"/>
<circle cx="414.10" cy="67.40" r="1.65" fill="#5b2a7c"/>
<circle cx="421.50" cy="69.40" r="1.65" fill="#174f8a"/>
<circle cx="423.10" cy="70.50" r="1.65" fill="#5b2a7c"/>
<circle cx="413.20" cy="72.50" r="1.65" fill="#3bb44a"/>
<circle cx="415.10" cy="74.10" r="1.65" fill="#3bb44a"/>
<circle cx="418.40" cy="73.50" r="1.65" fill="#174f8a"/>
<circle cx="425.60" cy="73.10" r="1.65" fill="#3bb44a"/>
<circle cx="428.30" cy="75.10" r="1.65" fill="#3bb44a"/>
<circle cx="461.20" cy="76.60" r="1.65" fill="#174f8a"/>
<circle cx="417.20" cy="76.80" r="1.65" fill="#3bb44a"/>
<circle cx="419.90" cy="78.40" r="1.65" fill="#3bb44a"/>
<circle cx="410.80" cy="77.50" r="1.65" fill="#5b2a7c"/>
<circle cx="423.10" cy="78.60" r="1.65" fill="#5b2a7c"/>
<circle cx="414.50" cy="80.90" r="1.65" fill="#5b2a7c"/>
<circle cx="418.80" cy="82.60" r="1.65" fill="#5b2a7c"/>
<circle cx="427.60" cy="84.90" r="1.65" fill="#3bb44a"/>
<circle cx="423.10" cy="87.60" r="1.65" fill="#3bb44a"/>
<circle cx="427.60" cy="87.60" r="1.65" fill="#5b2a7c"/>
<circle cx="429.90" cy="90.30" r="1.65" fill="#174f8a"/>
<circle cx="441.50" cy="87.60" r="1.65" fill="#174f8a"/>
<circle cx="412.10" cy="95.00" r="1.65" fill="#c8102e"/>
<circle cx="419.50" cy="97.00" r="1.65" fill="#174f8a"/>
<circle cx="491.60" cy="94.00" r="1.65" fill="#c8102e"/>
<circle cx="502.50" cy="94.00" r="1.65" fill="#c8102e"/>
<circle cx="500.40" cy="97.50" r="1.65" fill="#c8102e"/>
<circle cx="494.10" cy="105.00" r="1.65" fill="#c8102e"/>
<line x1="137.60" y1="158.80" x2="137.60" y2="246.30" stroke="#000" stroke-width="1.45" />
<line x1="135.20" y1="163.00" x2="137.60" y2="163.00" stroke="#000" stroke-width="0.9" />
<line x1="135.20" y1="204.60" x2="137.60" y2="204.60" stroke="#000" stroke-width="0.9" />
<line x1="135.20" y1="246.30" x2="137.60" y2="246.30" stroke="#000" stroke-width="0.9" />
<line x1="136.30" y1="192.08" x2="137.60" y2="192.08" stroke="#000" stroke-width="0.75" />
<line x1="136.30" y1="184.75" x2="137.60" y2="184.75" stroke="#000" stroke-width="0.75" />
<line x1="136.30" y1="179.55" x2="137.60" y2="179.55" stroke="#000" stroke-width="0.75" />
<line x1="136.30" y1="175.52" x2="137.60" y2="175.52" stroke="#000" stroke-width="0.75" />
<line x1="136.30" y1="172.23" x2="137.60" y2="172.23" stroke="#000" stroke-width="0.75" />
<line x1="136.30" y1="169.44" x2="137.60" y2="169.44" stroke="#000" stroke-width="0.75" />
<line x1="136.30" y1="167.03" x2="137.60" y2="167.03" stroke="#000" stroke-width="0.75" />
<line x1="136.30" y1="164.90" x2="137.60" y2="164.90" stroke="#000" stroke-width="0.75" />
<line x1="136.30" y1="233.75" x2="137.60" y2="233.75" stroke="#000" stroke-width="0.75" />
<line x1="136.30" y1="226.40" x2="137.60" y2="226.40" stroke="#000" stroke-width="0.75" />
<line x1="136.30" y1="221.19" x2="137.60" y2="221.19" stroke="#000" stroke-width="0.75" />
<line x1="136.30" y1="217.15" x2="137.60" y2="217.15" stroke="#000" stroke-width="0.75" />
<line x1="136.30" y1="213.85" x2="137.60" y2="213.85" stroke="#000" stroke-width="0.75" />
<line x1="136.30" y1="211.06" x2="137.60" y2="211.06" stroke="#000" stroke-width="0.75" />
<line x1="136.30" y1="208.64" x2="137.60" y2="208.64" stroke="#000" stroke-width="0.75" />
<line x1="136.30" y1="206.51" x2="137.60" y2="206.51" stroke="#000" stroke-width="0.75" />
<text x="124.05" y="165.90" font-size="6.9" textLength="5.70" lengthAdjust="spacingAndGlyphs" stroke="#231f20" stroke-width="0.22">10</text>
<text x="130.00" y="162.80" font-size="5.0" textLength="3.10" lengthAdjust="spacingAndGlyphs" stroke="#231f20" stroke-width="0.1">8</text>
<text x="124.05" y="207.50" font-size="6.9" textLength="5.70" lengthAdjust="spacingAndGlyphs" stroke="#231f20" stroke-width="0.22">10</text>
<text x="130.00" y="204.40" font-size="5.0" textLength="3.10" lengthAdjust="spacingAndGlyphs" stroke="#231f20" stroke-width="0.1">7</text>
<text x="124.05" y="249.20" font-size="6.9" textLength="5.70" lengthAdjust="spacingAndGlyphs" stroke="#231f20" stroke-width="0.22">10</text>
<text x="130.00" y="246.10" font-size="5.0" textLength="3.10" lengthAdjust="spacingAndGlyphs" stroke="#231f20" stroke-width="0.1">6</text>
<line x1="137.60" y1="246.30" x2="229.50" y2="246.30" stroke="#000" stroke-width="1.45" />
<line x1="137.60" y1="246.30" x2="137.60" y2="248.70" stroke="#000" stroke-width="0.9" />
<line x1="167.60" y1="246.30" x2="167.60" y2="248.70" stroke="#000" stroke-width="0.9" />
<line x1="197.60" y1="246.30" x2="197.60" y2="248.70" stroke="#000" stroke-width="0.9" />
<line x1="227.60" y1="246.30" x2="227.60" y2="248.70" stroke="#000" stroke-width="0.9" />
<line x1="146.63" y1="246.30" x2="146.63" y2="247.60" stroke="#000" stroke-width="0.75" />
<line x1="151.91" y1="246.30" x2="151.91" y2="247.60" stroke="#000" stroke-width="0.75" />
<line x1="155.66" y1="246.30" x2="155.66" y2="247.60" stroke="#000" stroke-width="0.75" />
<line x1="158.57" y1="246.30" x2="158.57" y2="247.60" stroke="#000" stroke-width="0.75" />
<line x1="160.94" y1="246.30" x2="160.94" y2="247.60" stroke="#000" stroke-width="0.75" />
<line x1="162.95" y1="246.30" x2="162.95" y2="247.60" stroke="#000" stroke-width="0.75" />
<line x1="164.69" y1="246.30" x2="164.69" y2="247.60" stroke="#000" stroke-width="0.75" />
<line x1="166.23" y1="246.30" x2="166.23" y2="247.60" stroke="#000" stroke-width="0.75" />
<line x1="176.63" y1="246.30" x2="176.63" y2="247.60" stroke="#000" stroke-width="0.75" />
<line x1="181.91" y1="246.30" x2="181.91" y2="247.60" stroke="#000" stroke-width="0.75" />
<line x1="185.66" y1="246.30" x2="185.66" y2="247.60" stroke="#000" stroke-width="0.75" />
<line x1="188.57" y1="246.30" x2="188.57" y2="247.60" stroke="#000" stroke-width="0.75" />
<line x1="190.94" y1="246.30" x2="190.94" y2="247.60" stroke="#000" stroke-width="0.75" />
<line x1="192.95" y1="246.30" x2="192.95" y2="247.60" stroke="#000" stroke-width="0.75" />
<line x1="194.69" y1="246.30" x2="194.69" y2="247.60" stroke="#000" stroke-width="0.75" />
<line x1="196.23" y1="246.30" x2="196.23" y2="247.60" stroke="#000" stroke-width="0.75" />
<line x1="206.63" y1="246.30" x2="206.63" y2="247.60" stroke="#000" stroke-width="0.75" />
<line x1="211.91" y1="246.30" x2="211.91" y2="247.60" stroke="#000" stroke-width="0.75" />
<line x1="215.66" y1="246.30" x2="215.66" y2="247.60" stroke="#000" stroke-width="0.75" />
<line x1="218.57" y1="246.30" x2="218.57" y2="247.60" stroke="#000" stroke-width="0.75" />
<line x1="220.94" y1="246.30" x2="220.94" y2="247.60" stroke="#000" stroke-width="0.75" />
<line x1="222.95" y1="246.30" x2="222.95" y2="247.60" stroke="#000" stroke-width="0.75" />
<line x1="224.69" y1="246.30" x2="224.69" y2="247.60" stroke="#000" stroke-width="0.75" />
<line x1="226.23" y1="246.30" x2="226.23" y2="247.60" stroke="#000" stroke-width="0.75" />
<text x="132.92" y="257.50" font-size="6.9" textLength="5.70" lengthAdjust="spacingAndGlyphs" stroke="#231f20" stroke-width="0.22">10</text>
<text x="138.87" y="254.40" font-size="5.0" textLength="4.60" lengthAdjust="spacingAndGlyphs" stroke="#231f20" stroke-width="0.1">−3</text>
<text x="162.92" y="257.50" font-size="6.9" textLength="5.70" lengthAdjust="spacingAndGlyphs" stroke="#231f20" stroke-width="0.22">10</text>
<text x="168.87" y="254.40" font-size="5.0" textLength="4.60" lengthAdjust="spacingAndGlyphs" stroke="#231f20" stroke-width="0.1">−2</text>
<text x="192.92" y="257.50" font-size="6.9" textLength="5.70" lengthAdjust="spacingAndGlyphs" stroke="#231f20" stroke-width="0.22">10</text>
<text x="198.87" y="254.40" font-size="5.0" textLength="4.60" lengthAdjust="spacingAndGlyphs" stroke="#231f20" stroke-width="0.1">−1</text>
<text x="223.67" y="257.50" font-size="6.9" textLength="5.70" lengthAdjust="spacingAndGlyphs" stroke="#231f20" stroke-width="0.22">10</text>
<text x="229.62" y="254.40" font-size="5.0" textLength="3.10" lengthAdjust="spacingAndGlyphs" stroke="#231f20" stroke-width="0.1">0</text>
<text x="180.50" y="266.70" font-size="7.8" text-anchor="middle" textLength="61.90" lengthAdjust="spacingAndGlyphs" stroke="#231f20" stroke-width="0.22">Nasopharyngeal IL-4</text>
<text x="180.50" y="274.80" font-size="7.8" text-anchor="middle" textLength="60.90" lengthAdjust="spacingAndGlyphs" stroke="#231f20" stroke-width="0.22">(fg/μg total protein)</text>
<text x="109.30" y="204.80" font-size="7.8" text-anchor="middle" textLength="77.50" lengthAdjust="spacingAndGlyphs" transform="rotate(-90 109.30 204.80)" stroke="#231f20" stroke-width="0.22">Nasopharyngeal MUC5CA</text>
<text x="118.70" y="204.40" font-size="7.8" text-anchor="middle" textLength="59.40" lengthAdjust="spacingAndGlyphs" transform="rotate(-90 118.70 204.40)" stroke="#231f20" stroke-width="0.22">(fg/μg total protein)</text>
<text x="146.20" y="170.00" font-size="6.2" textLength="28.60" lengthAdjust="spacingAndGlyphs" stroke="#231f20" stroke-width="0.12">σ = 0.484</text>
<text x="146.20" y="177.80" font-size="6.2" textLength="28.20" lengthAdjust="spacingAndGlyphs" stroke="#231f20" stroke-width="0.12"><tspan font-style="italic">p</tspan> = 0.004</text>
<circle cx="199.00" cy="167.50" r="1.65" fill="#5b2a7c"/>
<circle cx="219.60" cy="184.80" r="1.65" fill="#3bb44a"/>
<circle cx="201.00" cy="191.90" r="1.65" fill="#5b2a7c"/>
<circle cx="186.30" cy="201.20" r="1.65" fill="#5b2a7c"/>
<circle cx="189.40" cy="203.10" r="1.65" fill="#5b2a7c"/>
<circle cx="185.40" cy="205.40" r="1.65" fill="#5b2a7c"/>
<circle cx="189.40" cy="207.30" r="1.65" fill="#174f8a"/>
<circle cx="167.30" cy="207.90" r="1.65" fill="#5b2a7c"/>
<circle cx="193.70" cy="209.80" r="1.65" fill="#3bb44a"/>
<circle cx="198.10" cy="211.20" r="1.65" fill="#174f8a"/>
<circle cx="212.90" cy="210.80" r="1.65" fill="#3bb44a"/>
<circle cx="155.80" cy="211.70" r="1.65" fill="#3bb44a"/>
<circle cx="169.00" cy="212.30" r="1.65" fill="#3bb44a"/>
<circle cx="182.10" cy="213.70" r="1.65" fill="#174f8a"/>
<circle cx="187.90" cy="214.20" r="1.65" fill="#3bb44a"/>
<circle cx="190.40" cy="214.20" r="1.65" fill="#5b2a7c"/>
<circle cx="162.90" cy="215.20" r="1.65" fill="#5b2a7c"/>
<circle cx="179.60" cy="216.20" r="1.65" fill="#5b2a7c"/>
<circle cx="196.50" cy="215.60" r="1.65" fill="#3bb44a"/>
<circle cx="176.70" cy="218.10" r="1.65" fill="#5b2a7c"/>
<circle cx="167.30" cy="219.40" r="1.65" fill="#c8102e"/>
<circle cx="170.00" cy="219.80" r="1.65" fill="#5b2a7c"/>
<circle cx="194.60" cy="221.90" r="1.65" fill="#3bb44a"/>
<circle cx="169.00" cy="224.20" r="1.65" fill="#3bb44a"/>
<circle cx="175.00" cy="224.20" r="1.65" fill="#5b2a7c"/>
<circle cx="178.70" cy="224.20" r="1.65" fill="#174f8a"/>
<circle cx="178.70" cy="227.10" r="1.65" fill="#174f8a"/>
<circle cx="166.30" cy="230.60" r="1.65" fill="#c8102e"/>
<circle cx="171.90" cy="231.30" r="1.65" fill="#c8102e"/>
<circle cx="175.40" cy="230.40" r="1.65" fill="#c8102e"/>
<circle cx="184.40" cy="233.30" r="1.65" fill="#174f8a"/>
<circle cx="197.50" cy="233.50" r="1.65" fill="#c8102e"/>
<circle cx="155.80" cy="240.60" r="1.65" fill="#c8102e"/>
<line x1="275.80" y1="158.80" x2="275.80" y2="246.30" stroke="#000" stroke-width="1.45" />
<line x1="273.40" y1="163.00" x2="275.80" y2="163.00" stroke="#000" stroke-width="0.9" />
<line x1="273.40" y1="204.60" x2="275.80" y2="204.60" stroke="#000" stroke-width="0.9" />
<line x1="273.40" y1="246.30" x2="275.80" y2="246.30" stroke="#000" stroke-width="0.9" />
<line x1="274.50" y1="192.08" x2="275.80" y2="192.08" stroke="#000" stroke-width="0.75" />
<line x1="274.50" y1="184.75" x2="275.80" y2="184.75" stroke="#000" stroke-width="0.75" />
<line x1="274.50" y1="179.55" x2="275.80" y2="179.55" stroke="#000" stroke-width="0.75" />
<line x1="274.50" y1="175.52" x2="275.80" y2="175.52" stroke="#000" stroke-width="0.75" />
<line x1="274.50" y1="172.23" x2="275.80" y2="172.23" stroke="#000" stroke-width="0.75" />
<line x1="274.50" y1="169.44" x2="275.80" y2="169.44" stroke="#000" stroke-width="0.75" />
<line x1="274.50" y1="167.03" x2="275.80" y2="167.03" stroke="#000" stroke-width="0.75" />
<line x1="274.50" y1="164.90" x2="275.80" y2="164.90" stroke="#000" stroke-width="0.75" />
<line x1="274.50" y1="233.75" x2="275.80" y2="233.75" stroke="#000" stroke-width="0.75" />
<line x1="274.50" y1="226.40" x2="275.80" y2="226.40" stroke="#000" stroke-width="0.75" />
<line x1="274.50" y1="221.19" x2="275.80" y2="221.19" stroke="#000" stroke-width="0.75" />
<line x1="274.50" y1="217.15" x2="275.80" y2="217.15" stroke="#000" stroke-width="0.75" />
<line x1="274.50" y1="213.85" x2="275.80" y2="213.85" stroke="#000" stroke-width="0.75" />
<line x1="274.50" y1="211.06" x2="275.80" y2="211.06" stroke="#000" stroke-width="0.75" />
<line x1="274.50" y1="208.64" x2="275.80" y2="208.64" stroke="#000" stroke-width="0.75" />
<line x1="274.50" y1="206.51" x2="275.80" y2="206.51" stroke="#000" stroke-width="0.75" />
<text x="262.25" y="165.90" font-size="6.9" textLength="5.70" lengthAdjust="spacingAndGlyphs" stroke="#231f20" stroke-width="0.22">10</text>
<text x="268.20" y="162.80" font-size="5.0" textLength="3.10" lengthAdjust="spacingAndGlyphs" stroke="#231f20" stroke-width="0.1">8</text>
<text x="262.25" y="207.50" font-size="6.9" textLength="5.70" lengthAdjust="spacingAndGlyphs" stroke="#231f20" stroke-width="0.22">10</text>
<text x="268.20" y="204.40" font-size="5.0" textLength="3.10" lengthAdjust="spacingAndGlyphs" stroke="#231f20" stroke-width="0.1">7</text>
<text x="262.25" y="249.20" font-size="6.9" textLength="5.70" lengthAdjust="spacingAndGlyphs" stroke="#231f20" stroke-width="0.22">10</text>
<text x="268.20" y="246.10" font-size="5.0" textLength="3.10" lengthAdjust="spacingAndGlyphs" stroke="#231f20" stroke-width="0.1">6</text>
<line x1="275.80" y1="246.30" x2="368.80" y2="246.30" stroke="#000" stroke-width="1.45" />
<line x1="275.80" y1="246.30" x2="275.80" y2="248.70" stroke="#000" stroke-width="0.9" />
<line x1="298.60" y1="246.30" x2="298.60" y2="248.70" stroke="#000" stroke-width="0.9" />
<line x1="321.40" y1="246.30" x2="321.40" y2="248.70" stroke="#000" stroke-width="0.9" />
<line x1="344.20" y1="246.30" x2="344.20" y2="248.70" stroke="#000" stroke-width="0.9" />
<line x1="367.00" y1="246.30" x2="367.00" y2="248.70" stroke="#000" stroke-width="0.9" />
<line x1="282.66" y1="246.30" x2="282.66" y2="247.60" stroke="#000" stroke-width="0.75" />
<line x1="286.68" y1="246.30" x2="286.68" y2="247.60" stroke="#000" stroke-width="0.75" />
<line x1="289.53" y1="246.30" x2="289.53" y2="247.60" stroke="#000" stroke-width="0.75" />
<line x1="291.74" y1="246.30" x2="291.74" y2="247.60" stroke="#000" stroke-width="0.75" />
<line x1="293.54" y1="246.30" x2="293.54" y2="247.60" stroke="#000" stroke-width="0.75" />
<line x1="295.07" y1="246.30" x2="295.07" y2="247.60" stroke="#000" stroke-width="0.75" />
<line x1="296.39" y1="246.30" x2="296.39" y2="247.60" stroke="#000" stroke-width="0.75" />
<line x1="297.56" y1="246.30" x2="297.56" y2="247.60" stroke="#000" stroke-width="0.75" />
<line x1="305.46" y1="246.30" x2="305.46" y2="247.60" stroke="#000" stroke-width="0.75" />
<line x1="309.48" y1="246.30" x2="309.48" y2="247.60" stroke="#000" stroke-width="0.75" />
<line x1="312.33" y1="246.30" x2="312.33" y2="247.60" stroke="#000" stroke-width="0.75" />
<line x1="314.54" y1="246.30" x2="314.54" y2="247.60" stroke="#000" stroke-width="0.75" />
<line x1="316.34" y1="246.30" x2="316.34" y2="247.60" stroke="#000" stroke-width="0.75" />
<line x1="317.87" y1="246.30" x2="317.87" y2="247.60" stroke="#000" stroke-width="0.75" />
<line x1="319.19" y1="246.30" x2="319.19" y2="247.60" stroke="#000" stroke-width="0.75" />
<line x1="320.36" y1="246.30" x2="320.36" y2="247.60" stroke="#000" stroke-width="0.75" />
<line x1="328.26" y1="246.30" x2="328.26" y2="247.60" stroke="#000" stroke-width="0.75" />
<line x1="332.28" y1="246.30" x2="332.28" y2="247.60" stroke="#000" stroke-width="0.75" />
<line x1="335.13" y1="246.30" x2="335.13" y2="247.60" stroke="#000" stroke-width="0.75" />
<line x1="337.34" y1="246.30" x2="337.34" y2="247.60" stroke="#000" stroke-width="0.75" />
<line x1="339.14" y1="246.30" x2="339.14" y2="247.60" stroke="#000" stroke-width="0.75" />
<line x1="340.67" y1="246.30" x2="340.67" y2="247.60" stroke="#000" stroke-width="0.75" />
<line x1="341.99" y1="246.30" x2="341.99" y2="247.60" stroke="#000" stroke-width="0.75" />
<line x1="343.16" y1="246.30" x2="343.16" y2="247.60" stroke="#000" stroke-width="0.75" />
<line x1="351.06" y1="246.30" x2="351.06" y2="247.60" stroke="#000" stroke-width="0.75" />
<line x1="355.08" y1="246.30" x2="355.08" y2="247.60" stroke="#000" stroke-width="0.75" />
<line x1="357.93" y1="246.30" x2="357.93" y2="247.60" stroke="#000" stroke-width="0.75" />
<line x1="360.14" y1="246.30" x2="360.14" y2="247.60" stroke="#000" stroke-width="0.75" />
<line x1="361.94" y1="246.30" x2="361.94" y2="247.60" stroke="#000" stroke-width="0.75" />
<line x1="363.47" y1="246.30" x2="363.47" y2="247.60" stroke="#000" stroke-width="0.75" />
<line x1="364.79" y1="246.30" x2="364.79" y2="247.60" stroke="#000" stroke-width="0.75" />
<line x1="365.96" y1="246.30" x2="365.96" y2="247.60" stroke="#000" stroke-width="0.75" />
<text x="271.13" y="257.50" font-size="6.9" textLength="5.70" lengthAdjust="spacingAndGlyphs" stroke="#231f20" stroke-width="0.22">10</text>
<text x="277.08" y="254.40" font-size="5.0" textLength="4.60" lengthAdjust="spacingAndGlyphs" stroke="#231f20" stroke-width="0.1">−3</text>
<text x="293.93" y="257.50" font-size="6.9" textLength="5.70" lengthAdjust="spacingAndGlyphs" stroke="#231f20" stroke-width="0.22">10</text>
<text x="299.88" y="254.40" font-size="5.0" textLength="4.60" lengthAdjust="spacingAndGlyphs" stroke="#231f20" stroke-width="0.1">−2</text>
<text x="316.73" y="257.50" font-size="6.9" textLength="5.70" lengthAdjust="spacingAndGlyphs" stroke="#231f20" stroke-width="0.22">10</text>
<text x="322.68" y="254.40" font-size="5.0" textLength="4.60" lengthAdjust="spacingAndGlyphs" stroke="#231f20" stroke-width="0.1">−1</text>
<text x="340.28" y="257.50" font-size="6.9" textLength="5.70" lengthAdjust="spacingAndGlyphs" stroke="#231f20" stroke-width="0.22">10</text>
<text x="346.23" y="254.40" font-size="5.0" textLength="3.10" lengthAdjust="spacingAndGlyphs" stroke="#231f20" stroke-width="0.1">0</text>
<text x="363.08" y="257.50" font-size="6.9" textLength="5.70" lengthAdjust="spacingAndGlyphs" stroke="#231f20" stroke-width="0.22">10</text>
<text x="369.03" y="254.40" font-size="5.0" textLength="3.10" lengthAdjust="spacingAndGlyphs" stroke="#231f20" stroke-width="0.1">1</text>
<text x="320.50" y="266.70" font-size="7.8" text-anchor="middle" textLength="61.90" lengthAdjust="spacingAndGlyphs" stroke="#231f20" stroke-width="0.22">Nasopharyngeal IL-5</text>
<text x="320.50" y="274.80" font-size="7.8" text-anchor="middle" textLength="60.90" lengthAdjust="spacingAndGlyphs" stroke="#231f20" stroke-width="0.22">(fg/μg total protein)</text>
<text x="249.80" y="204.80" font-size="7.8" text-anchor="middle" textLength="77.50" lengthAdjust="spacingAndGlyphs" transform="rotate(-90 249.80 204.80)" stroke="#231f20" stroke-width="0.22">Nasopharyngeal MUC5CA</text>
<text x="259.20" y="204.40" font-size="7.8" text-anchor="middle" textLength="59.40" lengthAdjust="spacingAndGlyphs" transform="rotate(-90 259.20 204.40)" stroke="#231f20" stroke-width="0.22">(fg/μg total protein)</text>
<text x="285.60" y="165.60" font-size="6.2" textLength="28.60" lengthAdjust="spacingAndGlyphs" stroke="#231f20" stroke-width="0.12">σ = 0.699</text>
<text x="285.60" y="173.40" font-size="6.2" textLength="30.70" lengthAdjust="spacingAndGlyphs" stroke="#231f20" stroke-width="0.12"><tspan font-style="italic">p</tspan> ≤ 0.0001</text>
<circle cx="357.60" cy="167.50" r="1.65" fill="#5b2a7c"/>
<circle cx="358.50" cy="191.90" r="1.65" fill="#5b2a7c"/>
<circle cx="325.30" cy="184.80" r="1.65" fill="#3bb44a"/>
<circle cx="325.50" cy="201.20" r="1.65" fill="#5b2a7c"/>
<circle cx="328.30" cy="203.10" r="1.65" fill="#5b2a7c"/>
<circle cx="327.80" cy="205.40" r="1.65" fill="#5b2a7c"/>
<circle cx="310.50" cy="207.30" r="1.65" fill="#174f8a"/>
<circle cx="342.20" cy="208.30" r="1.65" fill="#5b2a7c"/>
<circle cx="313.70" cy="209.80" r="1.65" fill="#3bb44a"/>
<circle cx="305.70" cy="211.20" r="1.65" fill="#174f8a"/>
<circle cx="317.20" cy="212.30" r="1.65" fill="#3bb44a"/>
<circle cx="326.40" cy="211.30" r="1.65" fill="#3bb44a"/>
<circle cx="330.70" cy="210.80" r="1.65" fill="#3bb44a"/>
<circle cx="324.90" cy="214.00" r="1.65" fill="#3bb44a"/>
<circle cx="308.50" cy="214.00" r="1.65" fill="#174f8a"/>
<circle cx="312.40" cy="215.20" r="1.65" fill="#5b2a7c"/>
<circle cx="315.30" cy="217.90" r="1.65" fill="#5b2a7c"/>
<circle cx="334.10" cy="214.20" r="1.65" fill="#5b2a7c"/>
<circle cx="332.00" cy="216.00" r="1.65" fill="#3bb44a"/>
<circle cx="335.10" cy="219.80" r="1.65" fill="#5b2a7c"/>
<circle cx="297.00" cy="219.40" r="1.65" fill="#c8102e"/>
<circle cx="319.10" cy="221.90" r="1.65" fill="#3bb44a"/>
<circle cx="289.70" cy="224.20" r="1.65" fill="#174f8a"/>
<circle cx="311.00" cy="224.20" r="1.65" fill="#3bb44a"/>
<circle cx="324.30" cy="224.20" r="1.65" fill="#5b2a7c"/>
<circle cx="303.30" cy="226.70" r="1.65" fill="#174f8a"/>
<circle cx="303.30" cy="230.00" r="1.65" fill="#c8102e"/>
<circle cx="298.50" cy="230.40" r="1.65" fill="#c8102e"/>
<circle cx="299.90" cy="233.50" r="1.65" fill="#c8102e"/>
<circle cx="291.60" cy="231.30" r="1.65" fill="#c8102e"/>
<circle cx="302.80" cy="233.50" r="1.65" fill="#174f8a"/>
<circle cx="286.80" cy="240.60" r="1.65" fill="#c8102e"/>
<line x1="411.00" y1="158.80" x2="411.00" y2="246.30" stroke="#000" stroke-width="1.45" />
<line x1="408.60" y1="163.00" x2="411.00" y2="163.00" stroke="#000" stroke-width="0.9" />
<line x1="408.60" y1="204.60" x2="411.00" y2="204.60" stroke="#000" stroke-width="0.9" />
<line x1="408.60" y1="246.30" x2="411.00" y2="246.30" stroke="#000" stroke-width="0.9" />
<line x1="409.70" y1="192.08" x2="411.00" y2="192.08" stroke="#000" stroke-width="0.75" />
<line x1="409.70" y1="184.75" x2="411.00" y2="184.75" stroke="#000" stroke-width="0.75" />
<line x1="409.70" y1="179.55" x2="411.00" y2="179.55" stroke="#000" stroke-width="0.75" />
<line x1="409.70" y1="175.52" x2="411.00" y2="175.52" stroke="#000" stroke-width="0.75" />
<line x1="409.70" y1="172.23" x2="411.00" y2="172.23" stroke="#000" stroke-width="0.75" />
<line x1="409.70" y1="169.44" x2="411.00" y2="169.44" stroke="#000" stroke-width="0.75" />
<line x1="409.70" y1="167.03" x2="411.00" y2="167.03" stroke="#000" stroke-width="0.75" />
<line x1="409.70" y1="164.90" x2="411.00" y2="164.90" stroke="#000" stroke-width="0.75" />
<line x1="409.70" y1="233.75" x2="411.00" y2="233.75" stroke="#000" stroke-width="0.75" />
<line x1="409.70" y1="226.40" x2="411.00" y2="226.40" stroke="#000" stroke-width="0.75" />
<line x1="409.70" y1="221.19" x2="411.00" y2="221.19" stroke="#000" stroke-width="0.75" />
<line x1="409.70" y1="217.15" x2="411.00" y2="217.15" stroke="#000" stroke-width="0.75" />
<line x1="409.70" y1="213.85" x2="411.00" y2="213.85" stroke="#000" stroke-width="0.75" />
<line x1="409.70" y1="211.06" x2="411.00" y2="211.06" stroke="#000" stroke-width="0.75" />
<line x1="409.70" y1="208.64" x2="411.00" y2="208.64" stroke="#000" stroke-width="0.75" />
<line x1="409.70" y1="206.51" x2="411.00" y2="206.51" stroke="#000" stroke-width="0.75" />
<text x="397.45" y="165.90" font-size="6.9" textLength="5.70" lengthAdjust="spacingAndGlyphs" stroke="#231f20" stroke-width="0.22">10</text>
<text x="403.40" y="162.80" font-size="5.0" textLength="3.10" lengthAdjust="spacingAndGlyphs" stroke="#231f20" stroke-width="0.1">8</text>
<text x="397.45" y="207.50" font-size="6.9" textLength="5.70" lengthAdjust="spacingAndGlyphs" stroke="#231f20" stroke-width="0.22">10</text>
<text x="403.40" y="204.40" font-size="5.0" textLength="3.10" lengthAdjust="spacingAndGlyphs" stroke="#231f20" stroke-width="0.1">7</text>
<text x="397.45" y="249.20" font-size="6.9" textLength="5.70" lengthAdjust="spacingAndGlyphs" stroke="#231f20" stroke-width="0.22">10</text>
<text x="403.40" y="246.10" font-size="5.0" textLength="3.10" lengthAdjust="spacingAndGlyphs" stroke="#231f20" stroke-width="0.1">6</text>
<line x1="411.00" y1="246.30" x2="504.80" y2="246.30" stroke="#000" stroke-width="1.45" />
<line x1="411.00" y1="246.30" x2="411.00" y2="248.70" stroke="#000" stroke-width="0.9" />
<line x1="441.50" y1="246.30" x2="441.50" y2="248.70" stroke="#000" stroke-width="0.9" />
<line x1="472.00" y1="246.30" x2="472.00" y2="248.70" stroke="#000" stroke-width="0.9" />
<line x1="502.50" y1="246.30" x2="502.50" y2="248.70" stroke="#000" stroke-width="0.9" />
<line x1="420.18" y1="246.30" x2="420.18" y2="247.60" stroke="#000" stroke-width="0.75" />
<line x1="425.55" y1="246.30" x2="425.55" y2="247.60" stroke="#000" stroke-width="0.75" />
<line x1="429.36" y1="246.30" x2="429.36" y2="247.60" stroke="#000" stroke-width="0.75" />
<line x1="432.32" y1="246.30" x2="432.32" y2="247.60" stroke="#000" stroke-width="0.75" />
<line x1="434.73" y1="246.30" x2="434.73" y2="247.60" stroke="#000" stroke-width="0.75" />
<line x1="436.78" y1="246.30" x2="436.78" y2="247.60" stroke="#000" stroke-width="0.75" />
<line x1="438.54" y1="246.30" x2="438.54" y2="247.60" stroke="#000" stroke-width="0.75" />
<line x1="440.10" y1="246.30" x2="440.10" y2="247.60" stroke="#000" stroke-width="0.75" />
<line x1="450.68" y1="246.30" x2="450.68" y2="247.60" stroke="#000" stroke-width="0.75" />
<line x1="456.05" y1="246.30" x2="456.05" y2="247.60" stroke="#000" stroke-width="0.75" />
<line x1="459.86" y1="246.30" x2="459.86" y2="247.60" stroke="#000" stroke-width="0.75" />
<line x1="462.82" y1="246.30" x2="462.82" y2="247.60" stroke="#000" stroke-width="0.75" />
<line x1="465.23" y1="246.30" x2="465.23" y2="247.60" stroke="#000" stroke-width="0.75" />
<line x1="467.28" y1="246.30" x2="467.28" y2="247.60" stroke="#000" stroke-width="0.75" />
<line x1="469.04" y1="246.30" x2="469.04" y2="247.60" stroke="#000" stroke-width="0.75" />
<line x1="470.60" y1="246.30" x2="470.60" y2="247.60" stroke="#000" stroke-width="0.75" />
<line x1="481.18" y1="246.30" x2="481.18" y2="247.60" stroke="#000" stroke-width="0.75" />
<line x1="486.55" y1="246.30" x2="486.55" y2="247.60" stroke="#000" stroke-width="0.75" />
<line x1="490.36" y1="246.30" x2="490.36" y2="247.60" stroke="#000" stroke-width="0.75" />
<line x1="493.32" y1="246.30" x2="493.32" y2="247.60" stroke="#000" stroke-width="0.75" />
<line x1="495.73" y1="246.30" x2="495.73" y2="247.60" stroke="#000" stroke-width="0.75" />
<line x1="497.78" y1="246.30" x2="497.78" y2="247.60" stroke="#000" stroke-width="0.75" />
<line x1="499.54" y1="246.30" x2="499.54" y2="247.60" stroke="#000" stroke-width="0.75" />
<line x1="501.10" y1="246.30" x2="501.10" y2="247.60" stroke="#000" stroke-width="0.75" />
<text x="406.33" y="257.50" font-size="6.9" textLength="5.70" lengthAdjust="spacingAndGlyphs" stroke="#231f20" stroke-width="0.22">10</text>
<text x="412.28" y="254.40" font-size="5.0" textLength="4.60" lengthAdjust="spacingAndGlyphs" stroke="#231f20" stroke-width="0.1">−3</text>
<text x="436.83" y="257.50" font-size="6.9" textLength="5.70" lengthAdjust="spacingAndGlyphs" stroke="#231f20" stroke-width="0.22">10</text>
<text x="442.78" y="254.40" font-size="5.0" textLength="4.60" lengthAdjust="spacingAndGlyphs" stroke="#231f20" stroke-width="0.1">−2</text>
<text x="467.33" y="257.50" font-size="6.9" textLength="5.70" lengthAdjust="spacingAndGlyphs" stroke="#231f20" stroke-width="0.22">10</text>
<text x="473.28" y="254.40" font-size="5.0" textLength="4.60" lengthAdjust="spacingAndGlyphs" stroke="#231f20" stroke-width="0.1">−1</text>
<text x="498.58" y="257.50" font-size="6.9" textLength="5.70" lengthAdjust="spacingAndGlyphs" stroke="#231f20" stroke-width="0.22">10</text>
<text x="504.53" y="254.40" font-size="5.0" textLength="3.10" lengthAdjust="spacingAndGlyphs" stroke="#231f20" stroke-width="0.1">0</text>
<text x="454.70" y="266.70" font-size="7.8" text-anchor="middle" textLength="64.80" lengthAdjust="spacingAndGlyphs" stroke="#231f20" stroke-width="0.22">Nasopharyngeal IL-13</text>
<text x="454.70" y="274.80" font-size="7.8" text-anchor="middle" textLength="60.90" lengthAdjust="spacingAndGlyphs" stroke="#231f20" stroke-width="0.22">(fg/μg total protein)</text>
<text x="384.30" y="204.80" font-size="7.8" text-anchor="middle" textLength="77.50" lengthAdjust="spacingAndGlyphs" transform="rotate(-90 384.30 204.80)" stroke="#231f20" stroke-width="0.22">Nasopharyngeal MUC5CA</text>
<text x="393.70" y="204.40" font-size="7.8" text-anchor="middle" textLength="59.40" lengthAdjust="spacingAndGlyphs" transform="rotate(-90 393.70 204.40)" stroke="#231f20" stroke-width="0.22">(fg/μg total protein)</text>
<text x="417.60" y="167.00" font-size="6.2" textLength="28.60" lengthAdjust="spacingAndGlyphs" stroke="#231f20" stroke-width="0.12">σ = 0.430</text>
<text x="417.60" y="174.80" font-size="6.2" textLength="28.20" lengthAdjust="spacingAndGlyphs" stroke="#231f20" stroke-width="0.12"><tspan font-style="italic">p</tspan> = 0.013</text>
<circle cx="494.20" cy="167.90" r="1.65" fill="#5b2a7c"/>
<circle cx="495.90" cy="185.20" r="1.65" fill="#3bb44a"/>
<circle cx="480.10" cy="192.10" r="1.65" fill="#5b2a7c"/>
<circle cx="466.10" cy="201.50" r="1.65" fill="#5b2a7c"/>
<circle cx="473.40" cy="203.50" r="1.65" fill="#5b2a7c"/>
<circle cx="462.40" cy="205.40" r="1.65" fill="#5b2a7c"/>
<circle cx="460.90" cy="207.30" r="1.65" fill="#174f8a"/>
<circle cx="472.80" cy="208.30" r="1.65" fill="#5b2a7c"/>
<circle cx="488.40" cy="210.20" r="1.65" fill="#3bb44a"/>
<circle cx="431.70" cy="212.70" r="1.65" fill="#3bb44a"/>
<circle cx="452.20" cy="210.80" r="1.65" fill="#3bb44a"/>
<circle cx="462.80" cy="211.20" r="1.65" fill="#174f8a"/>
<circle cx="466.70" cy="211.70" r="1.65" fill="#3bb44a"/>
<circle cx="454.50" cy="214.00" r="1.65" fill="#174f8a"/>
<circle cx="460.90" cy="214.60" r="1.65" fill="#5b2a7c"/>
<circle cx="459.50" cy="216.90" r="1.65" fill="#5b2a7c"/>
<circle cx="459.00" cy="218.50" r="1.65" fill="#5b2a7c"/>
<circle cx="473.00" cy="216.00" r="1.65" fill="#3bb44a"/>
<circle cx="476.30" cy="215.20" r="1.65" fill="#5b2a7c"/>
<circle cx="478.80" cy="214.20" r="1.65" fill="#3bb44a"/>
<circle cx="463.40" cy="219.40" r="1.65" fill="#c8102e"/>
<circle cx="464.70" cy="219.80" r="1.65" fill="#5b2a7c"/>
<circle cx="469.90" cy="221.90" r="1.65" fill="#3bb44a"/>
<circle cx="464.30" cy="224.20" r="1.65" fill="#174f8a"/>
<circle cx="472.80" cy="224.20" r="1.65" fill="#5b2a7c"/>
<circle cx="475.90" cy="224.20" r="1.65" fill="#3bb44a"/>
<circle cx="456.70" cy="227.10" r="1.65" fill="#174f8a"/>
<circle cx="449.70" cy="230.40" r="1.65" fill="#c8102e"/>
<circle cx="458.40" cy="230.40" r="1.65" fill="#c8102e"/>
<circle cx="425.30" cy="231.30" r="1.65" fill="#c8102e"/>
<circle cx="419.90" cy="233.50" r="1.65" fill="#174f8a"/>
<circle cx="465.30" cy="233.50" r="1.65" fill="#c8102e"/>
<circle cx="468.60" cy="240.60" r="1.65" fill="#c8102e"/>
<line x1="39.40" y1="322.00" x2="39.40" y2="408.40" stroke="#000" stroke-width="1.45" />
<line x1="37.00" y1="325.30" x2="39.40" y2="325.30" stroke="#000" stroke-width="0.9" />
<line x1="37.00" y1="367.00" x2="39.40" y2="367.00" stroke="#000" stroke-width="0.9" />
<line x1="37.00" y1="408.40" x2="39.40" y2="408.40" stroke="#000" stroke-width="0.9" />
<line x1="38.10" y1="354.45" x2="39.40" y2="354.45" stroke="#000" stroke-width="0.75" />
<line x1="38.10" y1="347.10" x2="39.40" y2="347.10" stroke="#000" stroke-width="0.75" />
<line x1="38.10" y1="341.89" x2="39.40" y2="341.89" stroke="#000" stroke-width="0.75" />
<line x1="38.10" y1="337.85" x2="39.40" y2="337.85" stroke="#000" stroke-width="0.75" />
<line x1="38.10" y1="334.55" x2="39.40" y2="334.55" stroke="#000" stroke-width="0.75" />
<line x1="38.10" y1="331.76" x2="39.40" y2="331.76" stroke="#000" stroke-width="0.75" />
<line x1="38.10" y1="329.34" x2="39.40" y2="329.34" stroke="#000" stroke-width="0.75" />
<line x1="38.10" y1="327.21" x2="39.40" y2="327.21" stroke="#000" stroke-width="0.75" />
<line x1="38.10" y1="395.94" x2="39.40" y2="395.94" stroke="#000" stroke-width="0.75" />
<line x1="38.10" y1="388.65" x2="39.40" y2="388.65" stroke="#000" stroke-width="0.75" />
<line x1="38.10" y1="383.47" x2="39.40" y2="383.47" stroke="#000" stroke-width="0.75" />
<line x1="38.10" y1="379.46" x2="39.40" y2="379.46" stroke="#000" stroke-width="0.75" />
<line x1="38.10" y1="376.18" x2="39.40" y2="376.18" stroke="#000" stroke-width="0.75" />
<line x1="38.10" y1="373.41" x2="39.40" y2="373.41" stroke="#000" stroke-width="0.75" />
<line x1="38.10" y1="371.01" x2="39.40" y2="371.01" stroke="#000" stroke-width="0.75" />
<line x1="38.10" y1="368.89" x2="39.40" y2="368.89" stroke="#000" stroke-width="0.75" />
<text x="25.95" y="328.20" font-size="6.9" textLength="5.70" lengthAdjust="spacingAndGlyphs" stroke="#231f20" stroke-width="0.22">10</text>
<text x="31.90" y="325.10" font-size="5.0" textLength="3.10" lengthAdjust="spacingAndGlyphs" stroke="#231f20" stroke-width="0.1">8</text>
<text x="25.95" y="369.90" font-size="6.9" textLength="5.70" lengthAdjust="spacingAndGlyphs" stroke="#231f20" stroke-width="0.22">10</text>
<text x="31.90" y="366.80" font-size="5.0" textLength="3.10" lengthAdjust="spacingAndGlyphs" stroke="#231f20" stroke-width="0.1">7</text>
<text x="25.95" y="411.30" font-size="6.9" textLength="5.70" lengthAdjust="spacingAndGlyphs" stroke="#231f20" stroke-width="0.22">10</text>
<text x="31.90" y="408.20" font-size="5.0" textLength="3.10" lengthAdjust="spacingAndGlyphs" stroke="#231f20" stroke-width="0.1">6</text>
<line x1="39.40" y1="408.40" x2="133.10" y2="408.40" stroke="#000" stroke-width="1.45" />
<line x1="39.40" y1="408.40" x2="39.40" y2="410.80" stroke="#000" stroke-width="0.9" />
<line x1="57.60" y1="408.40" x2="57.60" y2="410.80" stroke="#000" stroke-width="0.9" />
<line x1="75.80" y1="408.40" x2="75.80" y2="410.80" stroke="#000" stroke-width="0.9" />
<line x1="94.00" y1="408.40" x2="94.00" y2="410.80" stroke="#000" stroke-width="0.9" />
<line x1="112.20" y1="408.40" x2="112.20" y2="410.80" stroke="#000" stroke-width="0.9" />
<line x1="130.40" y1="408.40" x2="130.40" y2="410.80" stroke="#000" stroke-width="0.9" />
<line x1="44.88" y1="408.40" x2="44.88" y2="409.70" stroke="#000" stroke-width="0.75" />
<line x1="48.08" y1="408.40" x2="48.08" y2="409.70" stroke="#000" stroke-width="0.75" />
<line x1="50.36" y1="408.40" x2="50.36" y2="409.70" stroke="#000" stroke-width="0.75" />
<line x1="52.12" y1="408.40" x2="52.12" y2="409.70" stroke="#000" stroke-width="0.75" />
<line x1="53.56" y1="408.40" x2="53.56" y2="409.70" stroke="#000" stroke-width="0.75" />
<line x1="54.78" y1="408.40" x2="54.78" y2="409.70" stroke="#000" stroke-width="0.75" />
<line x1="55.84" y1="408.40" x2="55.84" y2="409.70" stroke="#000" stroke-width="0.75" />
<line x1="56.77" y1="408.40" x2="56.77" y2="409.70" stroke="#000" stroke-width="0.75" />
<line x1="63.08" y1="408.40" x2="63.08" y2="409.70" stroke="#000" stroke-width="0.75" />
<line x1="66.28" y1="408.40" x2="66.28" y2="409.70" stroke="#000" stroke-width="0.75" />
<line x1="68.56" y1="408.40" x2="68.56" y2="409.70" stroke="#000" stroke-width="0.75" />
<line x1="70.32" y1="408.40" x2="70.32" y2="409.70" stroke="#000" stroke-width="0.75" />
<line x1="71.76" y1="408.40" x2="71.76" y2="409.70" stroke="#000" stroke-width="0.75" />
<line x1="72.98" y1="408.40" x2="72.98" y2="409.70" stroke="#000" stroke-width="0.75" />
<line x1="74.04" y1="408.40" x2="74.04" y2="409.70" stroke="#000" stroke-width="0.75" />
<line x1="74.97" y1="408.40" x2="74.97" y2="409.70" stroke="#000" stroke-width="0.75" />
<line x1="81.28" y1="408.40" x2="81.28" y2="409.70" stroke="#000" stroke-width="0.75" />
<line x1="84.48" y1="408.40" x2="84.48" y2="409.70" stroke="#000" stroke-width="0.75" />
<line x1="86.76" y1="408.40" x2="86.76" y2="409.70" stroke="#000" stroke-width="0.75" />
<line x1="88.52" y1="408.40" x2="88.52" y2="409.70" stroke="#000" stroke-width="0.75" />
<line x1="89.96" y1="408.40" x2="89.96" y2="409.70" stroke="#000" stroke-width="0.75" />
<line x1="91.18" y1="408.40" x2="91.18" y2="409.70" stroke="#000" stroke-width="0.75" />
<line x1="92.24" y1="408.40" x2="92.24" y2="409.70" stroke="#000" stroke-width="0.75" />
<line x1="93.17" y1="408.40" x2="93.17" y2="409.70" stroke="#000" stroke-width="0.75" />
<line x1="99.48" y1="408.40" x2="99.48" y2="409.70" stroke="#000" stroke-width="0.75" />
<line x1="102.68" y1="408.40" x2="102.68" y2="409.70" stroke="#000" stroke-width="0.75" />
<line x1="104.96" y1="408.40" x2="104.96" y2="409.70" stroke="#000" stroke-width="0.75" />
<line x1="106.72" y1="408.40" x2="106.72" y2="409.70" stroke="#000" stroke-width="0.75" />
<line x1="108.16" y1="408.40" x2="108.16" y2="409.70" stroke="#000" stroke-width="0.75" />
<line x1="109.38" y1="408.40" x2="109.38" y2="409.70" stroke="#000" stroke-width="0.75" />
<line x1="110.44" y1="408.40" x2="110.44" y2="409.70" stroke="#000" stroke-width="0.75" />
<line x1="111.37" y1="408.40" x2="111.37" y2="409.70" stroke="#000" stroke-width="0.75" />
<line x1="117.68" y1="408.40" x2="117.68" y2="409.70" stroke="#000" stroke-width="0.75" />
<line x1="120.88" y1="408.40" x2="120.88" y2="409.70" stroke="#000" stroke-width="0.75" />
<line x1="123.16" y1="408.40" x2="123.16" y2="409.70" stroke="#000" stroke-width="0.75" />
<line x1="124.92" y1="408.40" x2="124.92" y2="409.70" stroke="#000" stroke-width="0.75" />
<line x1="126.36" y1="408.40" x2="126.36" y2="409.70" stroke="#000" stroke-width="0.75" />
<line x1="127.58" y1="408.40" x2="127.58" y2="409.70" stroke="#000" stroke-width="0.75" />
<line x1="128.64" y1="408.40" x2="128.64" y2="409.70" stroke="#000" stroke-width="0.75" />
<line x1="129.57" y1="408.40" x2="129.57" y2="409.70" stroke="#000" stroke-width="0.75" />
<text x="35.48" y="417.60" font-size="6.9" textLength="5.70" lengthAdjust="spacingAndGlyphs" stroke="#231f20" stroke-width="0.22">10</text>
<text x="41.43" y="414.50" font-size="5.0" textLength="3.10" lengthAdjust="spacingAndGlyphs" stroke="#231f20" stroke-width="0.1">3</text>
<text x="53.68" y="417.60" font-size="6.9" textLength="5.70" lengthAdjust="spacingAndGlyphs" stroke="#231f20" stroke-width="0.22">10</text>
<text x="59.63" y="414.50" font-size="5.0" textLength="3.10" lengthAdjust="spacingAndGlyphs" stroke="#231f20" stroke-width="0.1">4</text>
<text x="71.87" y="417.60" font-size="6.9" textLength="5.70" lengthAdjust="spacingAndGlyphs" stroke="#231f20" stroke-width="0.22">10</text>
<text x="77.82" y="414.50" font-size="5.0" textLength="3.10" lengthAdjust="spacingAndGlyphs" stroke="#231f20" stroke-width="0.1">5</text>
<text x="90.07" y="417.60" font-size="6.9" textLength="5.70" lengthAdjust="spacingAndGlyphs" stroke="#231f20" stroke-width="0.22">10</text>
<text x="96.02" y="414.50" font-size="5.0" textLength="3.10" lengthAdjust="spacingAndGlyphs" stroke="#231f20" stroke-width="0.1">6</text>
<text x="108.27" y="417.60" font-size="6.9" textLength="5.70" lengthAdjust="spacingAndGlyphs" stroke="#231f20" stroke-width="0.22">10</text>
<text x="114.22" y="414.50" font-size="5.0" textLength="3.10" lengthAdjust="spacingAndGlyphs" stroke="#231f20" stroke-width="0.1">7</text>
<text x="126.47" y="417.60" font-size="6.9" textLength="5.70" lengthAdjust="spacingAndGlyphs" stroke="#231f20" stroke-width="0.22">10</text>
<text x="132.42" y="414.50" font-size="5.0" textLength="3.10" lengthAdjust="spacingAndGlyphs" stroke="#231f20" stroke-width="0.1">8</text>
<text x="84.50" y="428.30" font-size="7.8" text-anchor="middle" textLength="77.20" lengthAdjust="spacingAndGlyphs" stroke="#231f20" stroke-width="0.22">Nasopharyngeal total sIgA</text>
<text x="84.50" y="437.60" font-size="7.8" text-anchor="middle" textLength="60.30" lengthAdjust="spacingAndGlyphs" stroke="#231f20" stroke-width="0.22">(fg/μg total protein)</text>
<text x="12.60" y="367.00" font-size="7.8" text-anchor="middle" textLength="76.00" lengthAdjust="spacingAndGlyphs" transform="rotate(-90 12.60 367.00)" stroke="#231f20" stroke-width="0.22">Nasopharyngeal MUC5AC</text>
<text x="22.90" y="367.90" font-size="7.8" text-anchor="middle" textLength="60.00" lengthAdjust="spacingAndGlyphs" transform="rotate(-90 22.90 367.90)" stroke="#231f20" stroke-width="0.22">(fg/μg total protein)</text>
<text x="46.90" y="331.00" font-size="6.2" textLength="29.00" lengthAdjust="spacingAndGlyphs" stroke="#231f20" stroke-width="0.12">σ = 0.632</text>
<text x="46.90" y="338.60" font-size="6.2" textLength="30.20" lengthAdjust="spacingAndGlyphs" stroke="#231f20" stroke-width="0.12"><tspan font-style="italic">p</tspan> ≤ 0.0001</text>
<circle cx="117.70" cy="330.80" r="1.65" fill="#5b2a7c"/>
<circle cx="126.00" cy="348.10" r="1.65" fill="#3bb44a"/>
<circle cx="107.10" cy="355.00" r="1.65" fill="#5b2a7c"/>
<circle cx="107.10" cy="364.40" r="1.65" fill="#5b2a7c"/>
<circle cx="113.80" cy="366.00" r="1.65" fill="#5b2a7c"/>
<circle cx="111.00" cy="368.30" r="1.65" fill="#5b2a7c"/>
<circle cx="79.60" cy="370.40" r="1.65" fill="#174f8a"/>
<circle cx="106.20" cy="371.20" r="1.65" fill="#5b2a7c"/>
<circle cx="115.80" cy="372.70" r="1.65" fill="#3bb44a"/>
<circle cx="120.60" cy="373.70" r="1.65" fill="#3bb44a"/>
<circle cx="112.90" cy="375.00" r="1.65" fill="#3bb44a"/>
<circle cx="115.80" cy="376.20" r="1.65" fill="#3bb44a"/>
<circle cx="113.80" cy="377.50" r="1.65" fill="#3bb44a"/>
<circle cx="115.80" cy="378.50" r="1.65" fill="#3bb44a"/>
<circle cx="117.70" cy="376.50" r="1.65" fill="#174f8a"/>
<circle cx="100.40" cy="378.10" r="1.65" fill="#5b2a7c"/>
<circle cx="97.50" cy="379.40" r="1.65" fill="#5b2a7c"/>
<circle cx="96.50" cy="381.30" r="1.65" fill="#5b2a7c"/>
<circle cx="107.10" cy="377.10" r="1.65" fill="#5b2a7c"/>
<circle cx="103.30" cy="382.30" r="1.65" fill="#5b2a7c"/>
<circle cx="63.50" cy="382.30" r="1.65" fill="#c8102e"/>
<circle cx="112.90" cy="384.60" r="1.65" fill="#3bb44a"/>
<circle cx="91.20" cy="387.10" r="1.65" fill="#5b2a7c"/>
<circle cx="103.70" cy="387.10" r="1.65" fill="#3bb44a"/>
<circle cx="108.70" cy="387.10" r="1.65" fill="#174f8a"/>
<circle cx="109.00" cy="389.00" r="1.65" fill="#174f8a"/>
<circle cx="110.00" cy="390.30" r="1.65" fill="#174f8a"/>
<circle cx="50.00" cy="392.90" r="1.65" fill="#c8102e"/>
<circle cx="52.30" cy="393.80" r="1.65" fill="#c8102e"/>
<circle cx="78.30" cy="392.90" r="1.65" fill="#c8102e"/>
<circle cx="92.10" cy="396.20" r="1.65" fill="#c8102e"/>
<circle cx="104.20" cy="396.20" r="1.65" fill="#174f8a"/>
<circle cx="69.00" cy="403.50" r="1.65" fill="#c8102e"/>
<rect x="180.00" y="319.00" width="9.02" height="8.92" fill="#ffe9d5"/>
<rect x="188.32" y="319.00" width="8.12" height="8.92" fill="#ffd0a2"/>
<rect x="195.74" y="319.00" width="8.12" height="8.92" fill="#5b9dec"/>
<rect x="203.16" y="319.00" width="8.12" height="8.92" fill="#5b9dec"/>
<rect x="210.58" y="319.00" width="8.12" height="8.92" fill="#5b9dec"/>
<rect x="218.00" y="319.00" width="8.12" height="8.92" fill="#5b9dec"/>
<rect x="225.42" y="319.00" width="8.12" height="8.92" fill="#5b9dec"/>
<rect x="232.84" y="319.00" width="8.12" height="8.92" fill="#5b9dec"/>
<rect x="240.26" y="319.00" width="8.12" height="8.92" fill="#5b9dec"/>
<rect x="247.68" y="319.00" width="8.12" height="8.92" fill="#a6cbf4"/>
<rect x="255.10" y="319.00" width="8.12" height="8.92" fill="#5b9dec"/>
<rect x="262.52" y="319.00" width="8.12" height="8.92" fill="#5b9dec"/>
<rect x="269.94" y="319.00" width="8.12" height="8.92" fill="#5b9dec"/>
<rect x="277.36" y="319.00" width="8.12" height="8.92" fill="#ffe9d5"/>
<rect x="284.78" y="319.00" width="8.12" height="8.92" fill="#ffa852"/>
<rect x="292.20" y="319.00" width="8.12" height="8.92" fill="#ff8a1f"/>
<rect x="299.62" y="319.00" width="8.12" height="8.92" fill="#ff8a1f"/>
<rect x="307.04" y="319.00" width="8.12" height="8.92" fill="#ff8a1f"/>
<rect x="314.46" y="319.00" width="8.12" height="8.92" fill="#ff8a1f"/>
<rect x="321.88" y="319.00" width="8.12" height="8.92" fill="#ffa852"/>
<rect x="329.30" y="319.00" width="8.12" height="8.92" fill="#ffe9d5"/>
<rect x="336.72" y="319.00" width="8.12" height="8.92" fill="#ff8a1f"/>
<rect x="344.14" y="319.00" width="8.12" height="8.92" fill="#ff8a1f"/>
<rect x="351.56" y="319.00" width="8.12" height="8.92" fill="#ff8a1f"/>
<rect x="358.98" y="319.00" width="8.12" height="8.92" fill="#ff8a1f"/>
<rect x="366.40" y="319.00" width="8.12" height="8.92" fill="#5b9dec"/>
<rect x="373.82" y="319.00" width="8.18" height="8.92" fill="#5b9dec"/>
<rect x="381.30" y="319.00" width="7.90" height="8.92" fill="#5b9dec"/>
<rect x="388.50" y="319.00" width="7.90" height="8.92" fill="#5b9dec"/>
<rect x="395.70" y="319.00" width="7.90" height="8.92" fill="#5b9dec"/>
<rect x="402.90" y="319.00" width="7.90" height="8.92" fill="#5b9dec"/>
<rect x="410.10" y="319.00" width="7.90" height="8.92" fill="#5b9dec"/>
<rect x="417.30" y="319.00" width="8.00" height="8.92" fill="#5b9dec"/>
<rect x="180.00" y="327.22" width="9.02" height="8.02" fill="#2f80e7"/>
<rect x="188.32" y="327.22" width="8.12" height="8.02" fill="#ff8a1f"/>
<rect x="195.74" y="327.22" width="8.12" height="8.02" fill="#ffa852"/>
<rect x="203.16" y="327.22" width="8.12" height="8.02" fill="#2f80e7"/>
<rect x="210.58" y="327.22" width="8.12" height="8.02" fill="#ff8a1f"/>
<rect x="218.00" y="327.22" width="8.12" height="8.02" fill="#ff8a1f"/>
<rect x="225.42" y="327.22" width="8.12" height="8.02" fill="#2f80e7"/>
<rect x="232.84" y="327.22" width="8.12" height="8.02" fill="#a6cbf4"/>
<rect x="240.26" y="327.22" width="8.12" height="8.02" fill="#5b9dec"/>
<rect x="247.68" y="327.22" width="8.12" height="8.02" fill="#ff8a1f"/>
<rect x="255.10" y="327.22" width="8.12" height="8.02" fill="#ff8a1f"/>
<rect x="262.52" y="327.22" width="8.12" height="8.02" fill="#ff8a1f"/>
<rect x="269.94" y="327.22" width="8.12" height="8.02" fill="#ff8a1f"/>
<rect x="277.36" y="327.22" width="8.12" height="8.02" fill="#a6cbf4"/>
<rect x="284.78" y="327.22" width="8.12" height="8.02" fill="#ffa852"/>
<rect x="292.20" y="327.22" width="8.12" height="8.02" fill="#dce9fb"/>
<rect x="299.62" y="327.22" width="8.12" height="8.02" fill="#dce9fb"/>
<rect x="307.04" y="327.22" width="8.12" height="8.02" fill="#a6cbf4"/>
<rect x="314.46" y="327.22" width="8.12" height="8.02" fill="#ffd0a2"/>
<rect x="321.88" y="327.22" width="8.12" height="8.02" fill="#dce9fb"/>
<rect x="329.30" y="327.22" width="8.12" height="8.02" fill="#dce9fb"/>
<rect x="336.72" y="327.22" width="8.12" height="8.02" fill="#dce9fb"/>
<rect x="344.14" y="327.22" width="8.12" height="8.02" fill="#ffd0a2"/>
<rect x="351.56" y="327.22" width="8.12" height="8.02" fill="#ffe9d5"/>
<rect x="358.98" y="327.22" width="8.12" height="8.02" fill="#ff8a1f"/>
<rect x="366.40" y="327.22" width="8.12" height="8.02" fill="#ff8a1f"/>
<rect x="373.82" y="327.22" width="8.18" height="8.02" fill="#ff8a1f"/>
<rect x="381.30" y="327.22" width="7.90" height="8.02" fill="#2f80e7"/>
<rect x="388.50" y="327.22" width="7.90" height="8.02" fill="#ffd0a2"/>
<rect x="395.70" y="327.22" width="7.90" height="8.02" fill="#2f80e7"/>
<rect x="402.90" y="327.22" width="7.90" height="8.02" fill="#2f80e7"/>
<rect x="410.10" y="327.22" width="7.90" height="8.02" fill="#5b9dec"/>
<rect x="417.30" y="327.22" width="8.00" height="8.02" fill="#2f80e7"/>
<rect x="180.00" y="334.54" width="9.02" height="8.02" fill="#a6cbf4"/>
<rect x="188.32" y="334.54" width="8.12" height="8.02" fill="#ffe9d5"/>
<rect x="195.74" y="334.54" width="8.12" height="8.02" fill="#2f80e7"/>
<rect x="203.16" y="334.54" width="8.12" height="8.02" fill="#2f80e7"/>
<rect x="210.58" y="334.54" width="8.12" height="8.02" fill="#ff8a1f"/>
<rect x="218.00" y="334.54" width="8.12" height="8.02" fill="#ff8a1f"/>
<rect x="225.42" y="334.54" width="8.12" height="8.02" fill="#ff8a1f"/>
<rect x="232.84" y="334.54" width="8.12" height="8.02" fill="#ff8a1f"/>
<rect x="240.26" y="334.54" width="8.12" height="8.02" fill="#ffd0a2"/>
<rect x="247.68" y="334.54" width="8.12" height="8.02" fill="#ffe9d5"/>
<rect x="255.10" y="334.54" width="8.12" height="8.02" fill="#ffe9d5"/>
<rect x="262.52" y="334.54" width="8.12" height="8.02" fill="#fdfbfa"/>
<rect x="269.94" y="334.54" width="8.12" height="8.02" fill="#ff8a1f"/>
<rect x="277.36" y="334.54" width="8.12" height="8.02" fill="#ffd0a2"/>
<rect x="284.78" y="334.54" width="8.12" height="8.02" fill="#2f80e7"/>
<rect x="292.20" y="334.54" width="8.12" height="8.02" fill="#ffd0a2"/>
<rect x="299.62" y="334.54" width="8.12" height="8.02" fill="#5b9dec"/>
<rect x="307.04" y="334.54" width="8.12" height="8.02" fill="#ffa852"/>
<rect x="314.46" y="334.54" width="8.12" height="8.02" fill="#ffe9d5"/>
<rect x="321.88" y="334.54" width="8.12" height="8.02" fill="#2f80e7"/>
<rect x="329.30" y="334.54" width="8.12" height="8.02" fill="#dce9fb"/>
<rect x="336.72" y="334.54" width="8.12" height="8.02" fill="#ffa852"/>
<rect x="344.14" y="334.54" width="8.12" height="8.02" fill="#ffa852"/>
<rect x="351.56" y="334.54" width="8.12" height="8.02" fill="#ffe9d5"/>
<rect x="358.98" y="334.54" width="8.12" height="8.02" fill="#ffa852"/>
<rect x="366.40" y="334.54" width="8.12" height="8.02" fill="#2f80e7"/>
<rect x="373.82" y="334.54" width="8.18" height="8.02" fill="#ff8a1f"/>
<rect x="381.30" y="334.54" width="7.90" height="8.02" fill="#dce9fb"/>
<rect x="388.50" y="334.54" width="7.90" height="8.02" fill="#2f80e7"/>
<rect x="395.70" y="334.54" width="7.90" height="8.02" fill="#2f80e7"/>
<rect x="402.90" y="334.54" width="7.90" height="8.02" fill="#5b9dec"/>
<rect x="410.10" y="334.54" width="7.90" height="8.02" fill="#2f80e7"/>
<rect x="417.30" y="334.54" width="8.00" height="8.02" fill="#2f80e7"/>
<rect x="180.00" y="341.86" width="9.02" height="8.02" fill="#ff8a1f"/>
<rect x="188.32" y="341.86" width="8.12" height="8.02" fill="#ff8a1f"/>
<rect x="195.74" y="341.86" width="8.12" height="8.02" fill="#ffe9d5"/>
<rect x="203.16" y="341.86" width="8.12" height="8.02" fill="#2f80e7"/>
<rect x="210.58" y="341.86" width="8.12" height="8.02" fill="#dce9fb"/>
<rect x="218.00" y="341.86" width="8.12" height="8.02" fill="#ffa852"/>
<rect x="225.42" y="341.86" width="8.12" height="8.02" fill="#a6cbf4"/>
<rect x="232.84" y="341.86" width="8.12" height="8.02" fill="#2f80e7"/>
<rect x="240.26" y="341.86" width="8.12" height="8.02" fill="#ff8a1f"/>
<rect x="247.68" y="341.86" width="8.12" height="8.02" fill="#ffa852"/>
<rect x="255.10" y="341.86" width="8.12" height="8.02" fill="#dce9fb"/>
<rect x="262.52" y="341.86" width="8.12" height="8.02" fill="#ffa852"/>
<rect x="269.94" y="341.86" width="8.12" height="8.02" fill="#ffa852"/>
<rect x="277.36" y="341.86" width="8.12" height="8.02" fill="#ff8a1f"/>
<rect x="284.78" y="341.86" width="8.12" height="8.02" fill="#ffa852"/>
<rect x="292.20" y="341.86" width="8.12" height="8.02" fill="#ff8a1f"/>
<rect x="299.62" y="341.86" width="8.12" height="8.02" fill="#ffa852"/>
<rect x="307.04" y="341.86" width="8.12" height="8.02" fill="#ff8a1f"/>
<rect x="314.46" y="341.86" width="8.12" height="8.02" fill="#dce9fb"/>
<rect x="321.88" y="341.86" width="8.12" height="8.02" fill="#ff8a1f"/>
<rect x="329.30" y="341.86" width="8.12" height="8.02" fill="#ffe9d5"/>
<rect x="336.72" y="341.86" width="8.12" height="8.02" fill="#dce9fb"/>
<rect x="344.14" y="341.86" width="8.12" height="8.02" fill="#dce9fb"/>
<rect x="351.56" y="341.86" width="8.12" height="8.02" fill="#5b9dec"/>
<rect x="358.98" y="341.86" width="8.12" height="8.02" fill="#ff8a1f"/>
<rect x="366.40" y="341.86" width="8.12" height="8.02" fill="#2f80e7"/>
<rect x="373.82" y="341.86" width="8.18" height="8.02" fill="#ffd0a2"/>
<rect x="381.30" y="341.86" width="7.90" height="8.02" fill="#2f80e7"/>
<rect x="388.50" y="341.86" width="7.90" height="8.02" fill="#dce9fb"/>
<rect x="395.70" y="341.86" width="7.90" height="8.02" fill="#fdfbfa"/>
<rect x="402.90" y="341.86" width="7.90" height="8.02" fill="#2f80e7"/>
<rect x="410.10" y="341.86" width="7.90" height="8.02" fill="#2f80e7"/>
<rect x="417.30" y="341.86" width="8.00" height="8.02" fill="#2f80e7"/>
<rect x="180.00" y="349.18" width="9.02" height="8.02" fill="#ff8a1f"/>
<rect x="188.32" y="349.18" width="8.12" height="8.02" fill="#ff8a1f"/>
<rect x="195.74" y="349.18" width="8.12" height="8.02" fill="#a6cbf4"/>
<rect x="203.16" y="349.18" width="8.12" height="8.02" fill="#ffd0a2"/>
<rect x="210.58" y="349.18" width="8.12" height="8.02" fill="#ffe9d5"/>
<rect x="218.00" y="349.18" width="8.12" height="8.02" fill="#ffd0a2"/>
<rect x="225.42" y="349.18" width="8.12" height="8.02" fill="#5b9dec"/>
<rect x="232.84" y="349.18" width="8.12" height="8.02" fill="#fdfbfa"/>
<rect x="240.26" y="349.18" width="8.12" height="8.02" fill="#ff8a1f"/>
<rect x="247.68" y="349.18" width="8.12" height="8.02" fill="#5b9dec"/>
<rect x="255.10" y="349.18" width="8.12" height="8.02" fill="#ffe9d5"/>
<rect x="262.52" y="349.18" width="8.12" height="8.02" fill="#ffd0a2"/>
<rect x="269.94" y="349.18" width="8.12" height="8.02" fill="#ffd0a2"/>
<rect x="277.36" y="349.18" width="8.12" height="8.02" fill="#5b9dec"/>
<rect x="284.78" y="349.18" width="8.12" height="8.02" fill="#fdfbfa"/>
<rect x="292.20" y="349.18" width="8.12" height="8.02" fill="#ff8a1f"/>
<rect x="299.62" y="349.18" width="8.12" height="8.02" fill="#ffa852"/>
<rect x="307.04" y="349.18" width="8.12" height="8.02" fill="#ffd0a2"/>
<rect x="314.46" y="349.18" width="8.12" height="8.02" fill="#ffa852"/>
<rect x="321.88" y="349.18" width="8.12" height="8.02" fill="#fdfbfa"/>
<rect x="329.30" y="349.18" width="8.12" height="8.02" fill="#a6cbf4"/>
<rect x="336.72" y="349.18" width="8.12" height="8.02" fill="#5b9dec"/>
<rect x="344.14" y="349.18" width="8.12" height="8.02" fill="#fdfbfa"/>
<rect x="351.56" y="349.18" width="8.12" height="8.02" fill="#dce9fb"/>
<rect x="358.98" y="349.18" width="8.12" height="8.02" fill="#fdfbfa"/>
<rect x="366.40" y="349.18" width="8.12" height="8.02" fill="#2f80e7"/>
<rect x="373.82" y="349.18" width="8.18" height="8.02" fill="#ffa852"/>
<rect x="381.30" y="349.18" width="7.90" height="8.02" fill="#2f80e7"/>
<rect x="388.50" y="349.18" width="7.90" height="8.02" fill="#a6cbf4"/>
<rect x="395.70" y="349.18" width="7.90" height="8.02" fill="#2f80e7"/>
<rect x="402.90" y="349.18" width="7.90" height="8.02" fill="#2f80e7"/>
<rect x="410.10" y="349.18" width="7.90" height="8.02" fill="#2f80e7"/>
<rect x="417.30" y="349.18" width="8.00" height="8.02" fill="#2f80e7"/>
<rect x="180.00" y="356.50" width="9.02" height="8.02" fill="#ff8a1f"/>
<rect x="188.32" y="356.50" width="8.12" height="8.02" fill="#ff8a1f"/>
<rect x="195.74" y="356.50" width="8.12" height="8.02" fill="#ffe9d5"/>
<rect x="203.16" y="356.50" width="8.12" height="8.02" fill="#5b9dec"/>
<rect x="210.58" y="356.50" width="8.12" height="8.02" fill="#5b9dec"/>
<rect x="218.00" y="356.50" width="8.12" height="8.02" fill="#5b9dec"/>
<rect x="225.42" y="356.50" width="8.12" height="8.02" fill="#ffa852"/>
<rect x="232.84" y="356.50" width="8.12" height="8.02" fill="#a6cbf4"/>
<rect x="240.26" y="356.50" width="8.12" height="8.02" fill="#5b9dec"/>
<rect x="247.68" y="356.50" width="8.12" height="8.02" fill="#5b9dec"/>
<rect x="255.10" y="356.50" width="8.12" height="8.02" fill="#dce9fb"/>
<rect x="262.52" y="356.50" width="8.12" height="8.02" fill="#ffe9d5"/>
<rect x="269.94" y="356.50" width="8.12" height="8.02" fill="#ffd0a2"/>
<rect x="277.36" y="356.50" width="8.12" height="8.02" fill="#5b9dec"/>
<rect x="284.78" y="356.50" width="8.12" height="8.02" fill="#ffa852"/>
<rect x="292.20" y="356.50" width="8.12" height="8.02" fill="#ffe9d5"/>
<rect x="299.62" y="356.50" width="8.12" height="8.02" fill="#ffd0a2"/>
<rect x="307.04" y="356.50" width="8.12" height="8.02" fill="#ff8a1f"/>
<rect x="314.46" y="356.50" width="8.12" height="8.02" fill="#ffd0a2"/>
<rect x="321.88" y="356.50" width="8.12" height="8.02" fill="#ff8a1f"/>
<rect x="329.30" y="356.50" width="8.12" height="8.02" fill="#ff8a1f"/>
<rect x="336.72" y="356.50" width="8.12" height="8.02" fill="#ffe9d5"/>
<rect x="344.14" y="356.50" width="8.12" height="8.02" fill="#5b9dec"/>
<rect x="351.56" y="356.50" width="8.12" height="8.02" fill="#5b9dec"/>
<rect x="358.98" y="356.50" width="8.12" height="8.02" fill="#5b9dec"/>
<rect x="366.40" y="356.50" width="8.12" height="8.02" fill="#5b9dec"/>
<rect x="373.82" y="356.50" width="8.18" height="8.02" fill="#5b9dec"/>
<rect x="381.30" y="356.50" width="7.90" height="8.02" fill="#5b9dec"/>
<rect x="388.50" y="356.50" width="7.90" height="8.02" fill="#5b9dec"/>
<rect x="395.70" y="356.50" width="7.90" height="8.02" fill="#5b9dec"/>
<rect x="402.90" y="356.50" width="7.90" height="8.02" fill="#5b9dec"/>
<rect x="410.10" y="356.50" width="7.90" height="8.02" fill="#5b9dec"/>
<rect x="417.30" y="356.50" width="8.00" height="8.02" fill="#5b9dec"/>
<rect x="180.00" y="363.82" width="9.02" height="8.02" fill="#ff8a1f"/>
<rect x="188.32" y="363.82" width="8.12" height="8.02" fill="#ff8a1f"/>
<rect x="195.74" y="363.82" width="8.12" height="8.02" fill="#ff8a1f"/>
<rect x="203.16" y="363.82" width="8.12" height="8.02" fill="#ffd0a2"/>
<rect x="210.58" y="363.82" width="8.12" height="8.02" fill="#ff8a1f"/>
<rect x="218.00" y="363.82" width="8.12" height="8.02" fill="#a6cbf4"/>
<rect x="225.42" y="363.82" width="8.12" height="8.02" fill="#fdfbfa"/>
<rect x="232.84" y="363.82" width="8.12" height="8.02" fill="#ffa852"/>
<rect x="240.26" y="363.82" width="8.12" height="8.02" fill="#a6cbf4"/>
<rect x="247.68" y="363.82" width="8.12" height="8.02" fill="#a6cbf4"/>
<rect x="255.10" y="363.82" width="8.12" height="8.02" fill="#5b9dec"/>
<rect x="262.52" y="363.82" width="8.12" height="8.02" fill="#5b9dec"/>
<rect x="269.94" y="363.82" width="8.12" height="8.02" fill="#ffe9d5"/>
<rect x="277.36" y="363.82" width="8.12" height="8.02" fill="#ff8a1f"/>
<rect x="284.78" y="363.82" width="8.12" height="8.02" fill="#dce9fb"/>
<rect x="292.20" y="363.82" width="8.12" height="8.02" fill="#ffe9d5"/>
<rect x="299.62" y="363.82" width="8.12" height="8.02" fill="#dce9fb"/>
<rect x="307.04" y="363.82" width="8.12" height="8.02" fill="#dce9fb"/>
<rect x="314.46" y="363.82" width="8.12" height="8.02" fill="#ff8a1f"/>
<rect x="321.88" y="363.82" width="8.12" height="8.02" fill="#5b9dec"/>
<rect x="329.30" y="363.82" width="8.12" height="8.02" fill="#ff8a1f"/>
<rect x="336.72" y="363.82" width="8.12" height="8.02" fill="#fdfbfa"/>
<rect x="344.14" y="363.82" width="8.12" height="8.02" fill="#ffd0a2"/>
<rect x="351.56" y="363.82" width="8.12" height="8.02" fill="#5b9dec"/>
<rect x="358.98" y="363.82" width="8.12" height="8.02" fill="#a6cbf4"/>
<rect x="366.40" y="363.82" width="8.12" height="8.02" fill="#2f80e7"/>
<rect x="373.82" y="363.82" width="8.18" height="8.02" fill="#fdfbfa"/>
<rect x="381.30" y="363.82" width="7.90" height="8.02" fill="#2f80e7"/>
<rect x="388.50" y="363.82" width="7.90" height="8.02" fill="#5b9dec"/>
<rect x="395.70" y="363.82" width="7.90" height="8.02" fill="#a6cbf4"/>
<rect x="402.90" y="363.82" width="7.90" height="8.02" fill="#a6cbf4"/>
<rect x="410.10" y="363.82" width="7.90" height="8.02" fill="#5b9dec"/>
<rect x="417.30" y="363.82" width="8.00" height="8.02" fill="#2f80e7"/>
<rect x="180.00" y="371.14" width="9.02" height="8.02" fill="#ffa852"/>
<rect x="188.32" y="371.14" width="8.12" height="8.02" fill="#ffe9d5"/>
<rect x="195.74" y="371.14" width="8.12" height="8.02" fill="#ff8a1f"/>
<rect x="203.16" y="371.14" width="8.12" height="8.02" fill="#ff8a1f"/>
<rect x="210.58" y="371.14" width="8.12" height="8.02" fill="#ff8a1f"/>
<rect x="218.00" y="371.14" width="8.12" height="8.02" fill="#ffa852"/>
<rect x="225.42" y="371.14" width="8.12" height="8.02" fill="#ffa852"/>
<rect x="232.84" y="371.14" width="8.12" height="8.02" fill="#ff8a1f"/>
<rect x="240.26" y="371.14" width="8.12" height="8.02" fill="#a6cbf4"/>
<rect x="247.68" y="371.14" width="8.12" height="8.02" fill="#ffa852"/>
<rect x="255.10" y="371.14" width="8.12" height="8.02" fill="#ffe9d5"/>
<rect x="262.52" y="371.14" width="8.12" height="8.02" fill="#fdfbfa"/>
<rect x="269.94" y="371.14" width="8.12" height="8.02" fill="#ffe9d5"/>
<rect x="277.36" y="371.14" width="8.12" height="8.02" fill="#ffa852"/>
<rect x="284.78" y="371.14" width="8.12" height="8.02" fill="#ffa852"/>
<rect x="292.20" y="371.14" width="8.12" height="8.02" fill="#ffe9d5"/>
<rect x="299.62" y="371.14" width="8.12" height="8.02" fill="#ffe9d5"/>
<rect x="307.04" y="371.14" width="8.12" height="8.02" fill="#ffa852"/>
<rect x="314.46" y="371.14" width="8.12" height="8.02" fill="#ffd0a2"/>
<rect x="321.88" y="371.14" width="8.12" height="8.02" fill="#5b9dec"/>
<rect x="329.30" y="371.14" width="8.12" height="8.02" fill="#5b9dec"/>
<rect x="336.72" y="371.14" width="8.12" height="8.02" fill="#ffd0a2"/>
<rect x="344.14" y="371.14" width="8.12" height="8.02" fill="#ffa852"/>
<rect x="351.56" y="371.14" width="8.12" height="8.02" fill="#5b9dec"/>
<rect x="358.98" y="371.14" width="8.12" height="8.02" fill="#ffd0a2"/>
<rect x="366.40" y="371.14" width="8.12" height="8.02" fill="#5b9dec"/>
<rect x="373.82" y="371.14" width="8.18" height="8.02" fill="#ffd0a2"/>
<rect x="381.30" y="371.14" width="7.90" height="8.02" fill="#2f80e7"/>
<rect x="388.50" y="371.14" width="7.90" height="8.02" fill="#2f80e7"/>
<rect x="395.70" y="371.14" width="7.90" height="8.02" fill="#a6cbf4"/>
<rect x="402.90" y="371.14" width="7.90" height="8.02" fill="#2f80e7"/>
<rect x="410.10" y="371.14" width="7.90" height="8.02" fill="#2f80e7"/>
<rect x="417.30" y="371.14" width="8.00" height="8.02" fill="#2f80e7"/>
<rect x="180.00" y="378.46" width="9.02" height="8.02" fill="#ff8a1f"/>
<rect x="188.32" y="378.46" width="8.12" height="8.02" fill="#ff8a1f"/>
<rect x="195.74" y="378.46" width="8.12" height="8.02" fill="#ff8a1f"/>
<rect x="203.16" y="378.46" width="8.12" height="8.02" fill="#ff8a1f"/>
<rect x="210.58" y="378.46" width="8.12" height="8.02" fill="#a6cbf4"/>
<rect x="218.00" y="378.46" width="8.12" height="8.02" fill="#a6cbf4"/>
<rect x="225.42" y="378.46" width="8.12" height="8.02" fill="#ff8a1f"/>
<rect x="232.84" y="378.46" width="8.12" height="8.02" fill="#ffa852"/>
<rect x="240.26" y="378.46" width="8.12" height="8.02" fill="#a6cbf4"/>
<rect x="247.68" y="378.46" width="8.12" height="8.02" fill="#ffa852"/>
<rect x="255.10" y="378.46" width="8.12" height="8.02" fill="#ffe9d5"/>
<rect x="262.52" y="378.46" width="8.12" height="8.02" fill="#fdfbfa"/>
<rect x="269.94" y="378.46" width="8.12" height="8.02" fill="#ff8a1f"/>
<rect x="277.36" y="378.46" width="8.12" height="8.02" fill="#2f80e7"/>
<rect x="284.78" y="378.46" width="8.12" height="8.02" fill="#ffe9d5"/>
<rect x="292.20" y="378.46" width="8.12" height="8.02" fill="#ffd0a2"/>
<rect x="299.62" y="378.46" width="8.12" height="8.02" fill="#fdfbfa"/>
<rect x="307.04" y="378.46" width="8.12" height="8.02" fill="#a6cbf4"/>
<rect x="314.46" y="378.46" width="8.12" height="8.02" fill="#ffe9d5"/>
<rect x="321.88" y="378.46" width="8.12" height="8.02" fill="#a6cbf4"/>
<rect x="329.30" y="378.46" width="8.12" height="8.02" fill="#dce9fb"/>
<rect x="336.72" y="378.46" width="8.12" height="8.02" fill="#a6cbf4"/>
<rect x="344.14" y="378.46" width="8.12" height="8.02" fill="#dce9fb"/>
<rect x="351.56" y="378.46" width="8.12" height="8.02" fill="#a6cbf4"/>
<rect x="358.98" y="378.46" width="8.12" height="8.02" fill="#2f80e7"/>
<rect x="366.40" y="378.46" width="8.12" height="8.02" fill="#ff8a1f"/>
<rect x="373.82" y="378.46" width="8.18" height="8.02" fill="#2f80e7"/>
<rect x="381.30" y="378.46" width="7.90" height="8.02" fill="#2f80e7"/>
<rect x="388.50" y="378.46" width="7.90" height="8.02" fill="#2f80e7"/>
<rect x="395.70" y="378.46" width="7.90" height="8.02" fill="#2f80e7"/>
<rect x="402.90" y="378.46" width="7.90" height="8.02" fill="#2f80e7"/>
<rect x="410.10" y="378.46" width="7.90" height="8.02" fill="#2f80e7"/>
<rect x="417.30" y="378.46" width="8.00" height="8.02" fill="#2f80e7"/>
<rect x="180.00" y="385.78" width="9.02" height="8.02" fill="#ff8a1f"/>
<rect x="188.32" y="385.78" width="8.12" height="8.02" fill="#ffa852"/>
<rect x="195.74" y="385.78" width="8.12" height="8.02" fill="#ff8a1f"/>
<rect x="203.16" y="385.78" width="8.12" height="8.02" fill="#ff8a1f"/>
<rect x="210.58" y="385.78" width="8.12" height="8.02" fill="#ff8a1f"/>
<rect x="218.00" y="385.78" width="8.12" height="8.02" fill="#ff8a1f"/>
<rect x="225.42" y="385.78" width="8.12" height="8.02" fill="#ff8a1f"/>
<rect x="232.84" y="385.78" width="8.12" height="8.02" fill="#ffa852"/>
<rect x="240.26" y="385.78" width="8.12" height="8.02" fill="#ffd0a2"/>
<rect x="247.68" y="385.78" width="8.12" height="8.02" fill="#ffa852"/>
<rect x="255.10" y="385.78" width="8.12" height="8.02" fill="#ffa852"/>
<rect x="262.52" y="385.78" width="8.12" height="8.02" fill="#a6cbf4"/>
<rect x="269.94" y="385.78" width="8.12" height="8.02" fill="#ffa852"/>
<rect x="277.36" y="385.78" width="8.12" height="8.02" fill="#5b9dec"/>
<rect x="284.78" y="385.78" width="8.12" height="8.02" fill="#ffa852"/>
<rect x="292.20" y="385.78" width="8.12" height="8.02" fill="#dce9fb"/>
<rect x="299.62" y="385.78" width="8.12" height="8.02" fill="#a6cbf4"/>
<rect x="307.04" y="385.78" width="8.12" height="8.02" fill="#fdfbfa"/>
<rect x="314.46" y="385.78" width="8.12" height="8.02" fill="#ff8a1f"/>
<rect x="321.88" y="385.78" width="8.12" height="8.02" fill="#a6cbf4"/>
<rect x="329.30" y="385.78" width="8.12" height="8.02" fill="#dce9fb"/>
<rect x="336.72" y="385.78" width="8.12" height="8.02" fill="#5b9dec"/>
<rect x="344.14" y="385.78" width="8.12" height="8.02" fill="#a6cbf4"/>
<rect x="351.56" y="385.78" width="8.12" height="8.02" fill="#a6cbf4"/>
<rect x="358.98" y="385.78" width="8.12" height="8.02" fill="#ffe9d5"/>
<rect x="366.40" y="385.78" width="8.12" height="8.02" fill="#ff8a1f"/>
<rect x="373.82" y="385.78" width="8.18" height="8.02" fill="#2f80e7"/>
<rect x="381.30" y="385.78" width="7.90" height="8.02" fill="#2f80e7"/>
<rect x="388.50" y="385.78" width="7.90" height="8.02" fill="#2f80e7"/>
<rect x="395.70" y="385.78" width="7.90" height="8.02" fill="#2f80e7"/>
<rect x="402.90" y="385.78" width="7.90" height="8.02" fill="#2f80e7"/>
<rect x="410.10" y="385.78" width="7.90" height="8.02" fill="#5b9dec"/>
<rect x="417.30" y="385.78" width="8.00" height="8.02" fill="#2f80e7"/>
<rect x="180.00" y="393.10" width="9.02" height="8.00" fill="#ff8a1f"/>
<rect x="188.32" y="393.10" width="8.12" height="8.00" fill="#ffe9d5"/>
<rect x="195.74" y="393.10" width="8.12" height="8.00" fill="#ff8a1f"/>
<rect x="203.16" y="393.10" width="8.12" height="8.00" fill="#ff8a1f"/>
<rect x="210.58" y="393.10" width="8.12" height="8.00" fill="#ff8a1f"/>
<rect x="218.00" y="393.10" width="8.12" height="8.00" fill="#ff8a1f"/>
<rect x="225.42" y="393.10" width="8.12" height="8.00" fill="#ff8a1f"/>
<rect x="232.84" y="393.10" width="8.12" height="8.00" fill="#ff8a1f"/>
<rect x="240.26" y="393.10" width="8.12" height="8.00" fill="#dce9fb"/>
<rect x="247.68" y="393.10" width="8.12" height="8.00" fill="#ffd0a2"/>
<rect x="255.10" y="393.10" width="8.12" height="8.00" fill="#ffa852"/>
<rect x="262.52" y="393.10" width="8.12" height="8.00" fill="#ffa852"/>
<rect x="269.94" y="393.10" width="8.12" height="8.00" fill="#ffa852"/>
<rect x="277.36" y="393.10" width="8.12" height="8.00" fill="#ffd0a2"/>
<rect x="284.78" y="393.10" width="8.12" height="8.00" fill="#ff8a1f"/>
<rect x="292.20" y="393.10" width="8.12" height="8.00" fill="#ffe9d5"/>
<rect x="299.62" y="393.10" width="8.12" height="8.00" fill="#ffa852"/>
<rect x="307.04" y="393.10" width="8.12" height="8.00" fill="#fdfbfa"/>
<rect x="314.46" y="393.10" width="8.12" height="8.00" fill="#ffa852"/>
<rect x="321.88" y="393.10" width="8.12" height="8.00" fill="#ffe9d5"/>
<rect x="329.30" y="393.10" width="8.12" height="8.00" fill="#dce9fb"/>
<rect x="336.72" y="393.10" width="8.12" height="8.00" fill="#2f80e7"/>
<rect x="344.14" y="393.10" width="8.12" height="8.00" fill="#5b9dec"/>
<rect x="351.56" y="393.10" width="8.12" height="8.00" fill="#5b9dec"/>
<rect x="358.98" y="393.10" width="8.12" height="8.00" fill="#a6cbf4"/>
<rect x="366.40" y="393.10" width="8.12" height="8.00" fill="#dce9fb"/>
<rect x="373.82" y="393.10" width="8.18" height="8.00" fill="#2f80e7"/>
<rect x="381.30" y="393.10" width="7.90" height="8.00" fill="#2f80e7"/>
<rect x="388.50" y="393.10" width="7.90" height="8.00" fill="#2f80e7"/>
<rect x="395.70" y="393.10" width="7.90" height="8.00" fill="#2f80e7"/>
<rect x="402.90" y="393.10" width="7.90" height="8.00" fill="#2f80e7"/>
<rect x="410.10" y="393.10" width="7.90" height="8.00" fill="#2f80e7"/>
<rect x="417.30" y="393.10" width="8.00" height="8.00" fill="#2f80e7"/>
<rect x="180.00" y="400.40" width="9.02" height="8.17" fill="#ffd0a2"/>
<rect x="188.32" y="400.40" width="8.12" height="8.17" fill="#a6cbf4"/>
<rect x="195.74" y="400.40" width="8.12" height="8.17" fill="#ff8a1f"/>
<rect x="203.16" y="400.40" width="8.12" height="8.17" fill="#dce9fb"/>
<rect x="210.58" y="400.40" width="8.12" height="8.17" fill="#ff8a1f"/>
<rect x="218.00" y="400.40" width="8.12" height="8.17" fill="#ff8a1f"/>
<rect x="225.42" y="400.40" width="8.12" height="8.17" fill="#ff8a1f"/>
<rect x="232.84" y="400.40" width="8.12" height="8.17" fill="#fdfbfa"/>
<rect x="240.26" y="400.40" width="8.12" height="8.17" fill="#5b9dec"/>
<rect x="247.68" y="400.40" width="8.12" height="8.17" fill="#dce9fb"/>
<rect x="255.10" y="400.40" width="8.12" height="8.17" fill="#a6cbf4"/>
<rect x="262.52" y="400.40" width="8.12" height="8.17" fill="#a6cbf4"/>
<rect x="269.94" y="400.40" width="8.12" height="8.17" fill="#dce9fb"/>
<rect x="277.36" y="400.40" width="8.12" height="8.17" fill="#5b9dec"/>
<rect x="284.78" y="400.40" width="8.12" height="8.17" fill="#fdfbfa"/>
<rect x="292.20" y="400.40" width="8.12" height="8.17" fill="#5b9dec"/>
<rect x="299.62" y="400.40" width="8.12" height="8.17" fill="#2f80e7"/>
<rect x="307.04" y="400.40" width="8.12" height="8.17" fill="#2f80e7"/>
<rect x="314.46" y="400.40" width="8.12" height="8.17" fill="#dce9fb"/>
<rect x="321.88" y="400.40" width="8.12" height="8.17" fill="#5b9dec"/>
<rect x="329.30" y="400.40" width="8.12" height="8.17" fill="#2f80e7"/>
<rect x="336.72" y="400.40" width="8.12" height="8.17" fill="#2f80e7"/>
<rect x="344.14" y="400.40" width="8.12" height="8.17" fill="#2f80e7"/>
<rect x="351.56" y="400.40" width="8.12" height="8.17" fill="#2f80e7"/>
<rect x="358.98" y="400.40" width="8.12" height="8.17" fill="#2f80e7"/>
<rect x="366.40" y="400.40" width="8.12" height="8.17" fill="#dce9fb"/>
<rect x="373.82" y="400.40" width="8.18" height="8.17" fill="#ff8a1f"/>
<rect x="381.30" y="400.40" width="7.90" height="8.17" fill="#ff8a1f"/>
<rect x="388.50" y="400.40" width="7.90" height="8.17" fill="#ff8a1f"/>
<rect x="395.70" y="400.40" width="7.90" height="8.17" fill="#ff8a1f"/>
<rect x="402.90" y="400.40" width="7.90" height="8.17" fill="#ff8a1f"/>
<rect x="410.10" y="400.40" width="7.90" height="8.17" fill="#ff8a1f"/>
<rect x="417.30" y="400.40" width="8.00" height="8.17" fill="#dce9fb"/>
<rect x="180.00" y="407.87" width="9.02" height="8.17" fill="#ff8a1f"/>
<rect x="188.32" y="407.87" width="8.12" height="8.17" fill="#ff8a1f"/>
<rect x="195.74" y="407.87" width="8.12" height="8.17" fill="#ff8a1f"/>
<rect x="203.16" y="407.87" width="8.12" height="8.17" fill="#a6cbf4"/>
<rect x="210.58" y="407.87" width="8.12" height="8.17" fill="#fdfbfa"/>
<rect x="218.00" y="407.87" width="8.12" height="8.17" fill="#ff8a1f"/>
<rect x="225.42" y="407.87" width="8.12" height="8.17" fill="#ffd0a2"/>
<rect x="232.84" y="407.87" width="8.12" height="8.17" fill="#ffa852"/>
<rect x="240.26" y="407.87" width="8.12" height="8.17" fill="#a6cbf4"/>
<rect x="247.68" y="407.87" width="8.12" height="8.17" fill="#2f80e7"/>
<rect x="255.10" y="407.87" width="8.12" height="8.17" fill="#5b9dec"/>
<rect x="262.52" y="407.87" width="8.12" height="8.17" fill="#5b9dec"/>
<rect x="269.94" y="407.87" width="8.12" height="8.17" fill="#ffe9d5"/>
<rect x="277.36" y="407.87" width="8.12" height="8.17" fill="#2f80e7"/>
<rect x="284.78" y="407.87" width="8.12" height="8.17" fill="#a6cbf4"/>
<rect x="292.20" y="407.87" width="8.12" height="8.17" fill="#2f80e7"/>
<rect x="299.62" y="407.87" width="8.12" height="8.17" fill="#2f80e7"/>
<rect x="307.04" y="407.87" width="8.12" height="8.17" fill="#2f80e7"/>
<rect x="314.46" y="407.87" width="8.12" height="8.17" fill="#2f80e7"/>
<rect x="321.88" y="407.87" width="8.12" height="8.17" fill="#2f80e7"/>
<rect x="329.30" y="407.87" width="8.12" height="8.17" fill="#a6cbf4"/>
<rect x="336.72" y="407.87" width="8.12" height="8.17" fill="#a6cbf4"/>
<rect x="344.14" y="407.87" width="8.12" height="8.17" fill="#a6cbf4"/>
<rect x="351.56" y="407.87" width="8.12" height="8.17" fill="#5b9dec"/>
<rect x="358.98" y="407.87" width="8.12" height="8.17" fill="#a6cbf4"/>
<rect x="366.40" y="407.87" width="8.12" height="8.17" fill="#ffa852"/>
<rect x="373.82" y="407.87" width="8.18" height="8.17" fill="#ffd0a2"/>
<rect x="381.30" y="407.87" width="7.90" height="8.17" fill="#ff8a1f"/>
<rect x="388.50" y="407.87" width="7.90" height="8.17" fill="#ff8a1f"/>
<rect x="395.70" y="407.87" width="7.90" height="8.17" fill="#ffa852"/>
<rect x="402.90" y="407.87" width="7.90" height="8.17" fill="#ff8a1f"/>
<rect x="410.10" y="407.87" width="7.90" height="8.17" fill="#ff8a1f"/>
<rect x="417.30" y="407.87" width="8.00" height="8.17" fill="#ffd0a2"/>
<rect x="180.00" y="415.34" width="9.02" height="8.17" fill="#ff8a1f"/>
<rect x="188.32" y="415.34" width="8.12" height="8.17" fill="#ffa852"/>
<rect x="195.74" y="415.34" width="8.12" height="8.17" fill="#fdfbfa"/>
<rect x="203.16" y="415.34" width="8.12" height="8.17" fill="#ffd0a2"/>
<rect x="210.58" y="415.34" width="8.12" height="8.17" fill="#ffa852"/>
<rect x="218.00" y="415.34" width="8.12" height="8.17" fill="#ffa852"/>
<rect x="225.42" y="415.34" width="8.12" height="8.17" fill="#a6cbf4"/>
<rect x="232.84" y="415.34" width="8.12" height="8.17" fill="#a6cbf4"/>
<rect x="240.26" y="415.34" width="8.12" height="8.17" fill="#2f80e7"/>
<rect x="247.68" y="415.34" width="8.12" height="8.17" fill="#a6cbf4"/>
<rect x="255.10" y="415.34" width="8.12" height="8.17" fill="#ff8a1f"/>
<rect x="262.52" y="415.34" width="8.12" height="8.17" fill="#2f80e7"/>
<rect x="269.94" y="415.34" width="8.12" height="8.17" fill="#2f80e7"/>
<rect x="277.36" y="415.34" width="8.12" height="8.17" fill="#5b9dec"/>
<rect x="284.78" y="415.34" width="8.12" height="8.17" fill="#ffe9d5"/>
<rect x="292.20" y="415.34" width="8.12" height="8.17" fill="#2f80e7"/>
<rect x="299.62" y="415.34" width="8.12" height="8.17" fill="#5b9dec"/>
<rect x="307.04" y="415.34" width="8.12" height="8.17" fill="#2f80e7"/>
<rect x="314.46" y="415.34" width="8.12" height="8.17" fill="#ff8a1f"/>
<rect x="321.88" y="415.34" width="8.12" height="8.17" fill="#2f80e7"/>
<rect x="329.30" y="415.34" width="8.12" height="8.17" fill="#5b9dec"/>
<rect x="336.72" y="415.34" width="8.12" height="8.17" fill="#2f80e7"/>
<rect x="344.14" y="415.34" width="8.12" height="8.17" fill="#2f80e7"/>
<rect x="351.56" y="415.34" width="8.12" height="8.17" fill="#2f80e7"/>
<rect x="358.98" y="415.34" width="8.12" height="8.17" fill="#ff8a1f"/>
<rect x="366.40" y="415.34" width="8.12" height="8.17" fill="#5b9dec"/>
<rect x="373.82" y="415.34" width="8.18" height="8.17" fill="#ff8a1f"/>
<rect x="381.30" y="415.34" width="7.90" height="8.17" fill="#ff8a1f"/>
<rect x="388.50" y="415.34" width="7.90" height="8.17" fill="#ff8a1f"/>
<rect x="395.70" y="415.34" width="7.90" height="8.17" fill="#ffe9d5"/>
<rect x="402.90" y="415.34" width="7.90" height="8.17" fill="#ffd0a2"/>
<rect x="410.10" y="415.34" width="7.90" height="8.17" fill="#ff8a1f"/>
<rect x="417.30" y="415.34" width="8.00" height="8.17" fill="#ffa852"/>
<rect x="180.00" y="422.81" width="9.02" height="8.17" fill="#5b9dec"/>
<rect x="188.32" y="422.81" width="8.12" height="8.17" fill="#5b9dec"/>
<rect x="195.74" y="422.81" width="8.12" height="8.17" fill="#ffe9d5"/>
<rect x="203.16" y="422.81" width="8.12" height="8.17" fill="#5b9dec"/>
<rect x="210.58" y="422.81" width="8.12" height="8.17" fill="#ffa852"/>
<rect x="218.00" y="422.81" width="8.12" height="8.17" fill="#a6cbf4"/>
<rect x="225.42" y="422.81" width="8.12" height="8.17" fill="#dce9fb"/>
<rect x="232.84" y="422.81" width="8.12" height="8.17" fill="#ffe9d5"/>
<rect x="240.26" y="422.81" width="8.12" height="8.17" fill="#dce9fb"/>
<rect x="247.68" y="422.81" width="8.12" height="8.17" fill="#ffd0a2"/>
<rect x="255.10" y="422.81" width="8.12" height="8.17" fill="#ffe9d5"/>
<rect x="262.52" y="422.81" width="8.12" height="8.17" fill="#5b9dec"/>
<rect x="269.94" y="422.81" width="8.12" height="8.17" fill="#5b9dec"/>
<rect x="277.36" y="422.81" width="8.12" height="8.17" fill="#ffe9d5"/>
<rect x="284.78" y="422.81" width="8.12" height="8.17" fill="#dce9fb"/>
<rect x="292.20" y="422.81" width="8.12" height="8.17" fill="#5b9dec"/>
<rect x="299.62" y="422.81" width="8.12" height="8.17" fill="#5b9dec"/>
<rect x="307.04" y="422.81" width="8.12" height="8.17" fill="#dce9fb"/>
<rect x="314.46" y="422.81" width="8.12" height="8.17" fill="#5b9dec"/>
<rect x="321.88" y="422.81" width="8.12" height="8.17" fill="#5b9dec"/>
<rect x="329.30" y="422.81" width="8.12" height="8.17" fill="#5b9dec"/>
<rect x="336.72" y="422.81" width="8.12" height="8.17" fill="#fdfbfa"/>
<rect x="344.14" y="422.81" width="8.12" height="8.17" fill="#dce9fb"/>
<rect x="351.56" y="422.81" width="8.12" height="8.17" fill="#5b9dec"/>
<rect x="358.98" y="422.81" width="8.12" height="8.17" fill="#5b9dec"/>
<rect x="366.40" y="422.81" width="8.12" height="8.17" fill="#a6cbf4"/>
<rect x="373.82" y="422.81" width="8.18" height="8.17" fill="#dce9fb"/>
<rect x="381.30" y="422.81" width="7.90" height="8.17" fill="#5b9dec"/>
<rect x="388.50" y="422.81" width="7.90" height="8.17" fill="#5b9dec"/>
<rect x="395.70" y="422.81" width="7.90" height="8.17" fill="#ff8a1f"/>
<rect x="402.90" y="422.81" width="7.90" height="8.17" fill="#ff8a1f"/>
<rect x="410.10" y="422.81" width="7.90" height="8.17" fill="#ff8a1f"/>
<rect x="417.30" y="422.81" width="8.00" height="8.17" fill="#ff8a1f"/>
<rect x="180.00" y="430.28" width="9.02" height="8.17" fill="#a6cbf4"/>
<rect x="188.32" y="430.28" width="8.12" height="8.17" fill="#2f80e7"/>
<rect x="195.74" y="430.28" width="8.12" height="8.17" fill="#ffa852"/>
<rect x="203.16" y="430.28" width="8.12" height="8.17" fill="#ffd0a2"/>
<rect x="210.58" y="430.28" width="8.12" height="8.17" fill="#ffd0a2"/>
<rect x="218.00" y="430.28" width="8.12" height="8.17" fill="#a6cbf4"/>
<rect x="225.42" y="430.28" width="8.12" height="8.17" fill="#2f80e7"/>
<rect x="232.84" y="430.28" width="8.12" height="8.17" fill="#2f80e7"/>
<rect x="240.26" y="430.28" width="8.12" height="8.17" fill="#ff8a1f"/>
<rect x="247.68" y="430.28" width="8.12" height="8.17" fill="#ffe9d5"/>
<rect x="255.10" y="430.28" width="8.12" height="8.17" fill="#dce9fb"/>
<rect x="262.52" y="430.28" width="8.12" height="8.17" fill="#ffd0a2"/>
<rect x="269.94" y="430.28" width="8.12" height="8.17" fill="#ffd0a2"/>
<rect x="277.36" y="430.28" width="8.12" height="8.17" fill="#ffe9d5"/>
<rect x="284.78" y="430.28" width="8.12" height="8.17" fill="#a6cbf4"/>
<rect x="292.20" y="430.28" width="8.12" height="8.17" fill="#2f80e7"/>
<rect x="299.62" y="430.28" width="8.12" height="8.17" fill="#2f80e7"/>
<rect x="307.04" y="430.28" width="8.12" height="8.17" fill="#dce9fb"/>
<rect x="314.46" y="430.28" width="8.12" height="8.17" fill="#2f80e7"/>
<rect x="321.88" y="430.28" width="8.12" height="8.17" fill="#2f80e7"/>
<rect x="329.30" y="430.28" width="8.12" height="8.17" fill="#ffd0a2"/>
<rect x="336.72" y="430.28" width="8.12" height="8.17" fill="#a6cbf4"/>
<rect x="344.14" y="430.28" width="8.12" height="8.17" fill="#a6cbf4"/>
<rect x="351.56" y="430.28" width="8.12" height="8.17" fill="#2f80e7"/>
<rect x="358.98" y="430.28" width="8.12" height="8.17" fill="#2f80e7"/>
<rect x="366.40" y="430.28" width="8.12" height="8.17" fill="#dce9fb"/>
<rect x="373.82" y="430.28" width="8.18" height="8.17" fill="#a6cbf4"/>
<rect x="381.30" y="430.28" width="7.90" height="8.17" fill="#ffd0a2"/>
<rect x="388.50" y="430.28" width="7.90" height="8.17" fill="#ffe9d5"/>
<rect x="395.70" y="430.28" width="7.90" height="8.17" fill="#ff8a1f"/>
<rect x="402.90" y="430.28" width="7.90" height="8.17" fill="#ff8a1f"/>
<rect x="410.10" y="430.28" width="7.90" height="8.17" fill="#ff8a1f"/>
<rect x="417.30" y="430.28" width="8.00" height="8.17" fill="#ff8a1f"/>
<rect x="180.00" y="437.75" width="9.02" height="8.55" fill="#ffd0a2"/>
<rect x="188.32" y="437.75" width="8.12" height="8.55" fill="#5b9dec"/>
<rect x="195.74" y="437.75" width="8.12" height="8.55" fill="#2f80e7"/>
<rect x="203.16" y="437.75" width="8.12" height="8.55" fill="#a6cbf4"/>
<rect x="210.58" y="437.75" width="8.12" height="8.55" fill="#2f80e7"/>
<rect x="218.00" y="437.75" width="8.12" height="8.55" fill="#2f80e7"/>
<rect x="225.42" y="437.75" width="8.12" height="8.55" fill="#ffa852"/>
<rect x="232.84" y="437.75" width="8.12" height="8.55" fill="#5b9dec"/>
<rect x="240.26" y="437.75" width="8.12" height="8.55" fill="#ff8a1f"/>
<rect x="247.68" y="437.75" width="8.12" height="8.55" fill="#2f80e7"/>
<rect x="255.10" y="437.75" width="8.12" height="8.55" fill="#a6cbf4"/>
<rect x="262.52" y="437.75" width="8.12" height="8.55" fill="#ffe9d5"/>
<rect x="269.94" y="437.75" width="8.12" height="8.55" fill="#dce9fb"/>
<rect x="277.36" y="437.75" width="8.12" height="8.55" fill="#2f80e7"/>
<rect x="284.78" y="437.75" width="8.12" height="8.55" fill="#2f80e7"/>
<rect x="292.20" y="437.75" width="8.12" height="8.55" fill="#5b9dec"/>
<rect x="299.62" y="437.75" width="8.12" height="8.55" fill="#5b9dec"/>
<rect x="307.04" y="437.75" width="8.12" height="8.55" fill="#2f80e7"/>
<rect x="314.46" y="437.75" width="8.12" height="8.55" fill="#dce9fb"/>
<rect x="321.88" y="437.75" width="8.12" height="8.55" fill="#ff8a1f"/>
<rect x="329.30" y="437.75" width="8.12" height="8.55" fill="#ff8a1f"/>
<rect x="336.72" y="437.75" width="8.12" height="8.55" fill="#dce9fb"/>
<rect x="344.14" y="437.75" width="8.12" height="8.55" fill="#2f80e7"/>
<rect x="351.56" y="437.75" width="8.12" height="8.55" fill="#ffa852"/>
<rect x="358.98" y="437.75" width="8.12" height="8.55" fill="#2f80e7"/>
<rect x="366.40" y="437.75" width="8.12" height="8.55" fill="#ffa852"/>
<rect x="373.82" y="437.75" width="8.18" height="8.55" fill="#dce9fb"/>
<rect x="381.30" y="437.75" width="7.90" height="8.55" fill="#ff8a1f"/>
<rect x="388.50" y="437.75" width="7.90" height="8.55" fill="#ff8a1f"/>
<rect x="395.70" y="437.75" width="7.90" height="8.55" fill="#ff8a1f"/>
<rect x="402.90" y="437.75" width="7.90" height="8.55" fill="#ff8a1f"/>
<rect x="410.10" y="437.75" width="7.90" height="8.55" fill="#ff8a1f"/>
<rect x="417.30" y="437.75" width="8.00" height="8.55" fill="#ff8a1f"/>
<rect x="180.05" y="319.1" width="244.9" height="127.25" fill="none" stroke="#000" stroke-width="1.7"/>
<line x1="382.10" y1="319.10" x2="382.10" y2="446.35" stroke="#000" stroke-width="1.7" />
<line x1="180.05" y1="400.40" x2="424.95" y2="400.40" stroke="#000" stroke-width="1.7" />
<rect x="182.20" y="309.9" width="6.0" height="6.5" fill="#5b2a7c"/>
<rect x="189.60" y="309.9" width="6.0" height="6.5" fill="#5b2a7c"/>
<rect x="197.01" y="309.9" width="6.0" height="6.5" fill="#3bb44a"/>
<rect x="204.41" y="309.9" width="6.0" height="6.5" fill="#3bb44a"/>
<rect x="211.82" y="309.9" width="6.0" height="6.5" fill="#174f8a"/>
<rect x="219.22" y="309.9" width="6.0" height="6.5" fill="#174f8a"/>
<rect x="226.63" y="309.9" width="6.0" height="6.5" fill="#3bb44a"/>
<rect x="234.03" y="309.9" width="6.0" height="6.5" fill="#3bb44a"/>
<rect x="241.44" y="309.9" width="6.0" height="6.5" fill="#3bb44a"/>
<rect x="248.84" y="309.9" width="6.0" height="6.5" fill="#174f8a"/>
<rect x="256.25" y="309.9" width="6.0" height="6.5" fill="#3bb44a"/>
<rect x="263.65" y="309.9" width="6.0" height="6.5" fill="#3bb44a"/>
<rect x="271.06" y="309.9" width="6.0" height="6.5" fill="#3bb44a"/>
<rect x="278.46" y="309.9" width="6.0" height="6.5" fill="#174f8a"/>
<rect x="285.87" y="309.9" width="6.0" height="6.5" fill="#3bb44a"/>
<rect x="293.27" y="309.9" width="6.0" height="6.5" fill="#5b2a7c"/>
<rect x="300.68" y="309.9" width="6.0" height="6.5" fill="#5b2a7c"/>
<rect x="308.08" y="309.9" width="6.0" height="6.5" fill="#5b2a7c"/>
<rect x="315.49" y="309.9" width="6.0" height="6.5" fill="#5b2a7c"/>
<rect x="322.89" y="309.9" width="6.0" height="6.5" fill="#5b2a7c"/>
<rect x="330.30" y="309.9" width="6.0" height="6.5" fill="#5b2a7c"/>
<rect x="337.70" y="309.9" width="6.0" height="6.5" fill="#5b2a7c"/>
<rect x="345.11" y="309.9" width="6.0" height="6.5" fill="#5b2a7c"/>
<rect x="352.51" y="309.9" width="6.0" height="6.5" fill="#5b2a7c"/>
<rect x="359.92" y="309.9" width="6.0" height="6.5" fill="#5b2a7c"/>
<rect x="367.32" y="309.9" width="6.0" height="6.5" fill="#174f8a"/>
<rect x="374.73" y="309.9" width="6.0" height="6.5" fill="#174f8a"/>
<rect x="382.60" y="309.9" width="6.0" height="6.5" fill="#c8102e"/>
<rect x="389.90" y="309.9" width="6.0" height="6.5" fill="#c8102e"/>
<rect x="397.20" y="309.9" width="6.0" height="6.5" fill="#c8102e"/>
<rect x="404.50" y="309.9" width="6.0" height="6.5" fill="#c8102e"/>
<rect x="411.80" y="309.9" width="6.0" height="6.5" fill="#c8102e"/>
<rect x="419.10" y="309.9" width="6.0" height="6.5" fill="#c8102e"/>
<line x1="185.20" y1="309.90" x2="185.20" y2="308.60" stroke="#7d7d7d" stroke-width="0.6" />
<line x1="192.60" y1="309.90" x2="192.60" y2="308.60" stroke="#7d7d7d" stroke-width="0.6" />
<line x1="185.20" y1="308.60" x2="192.60" y2="308.60" stroke="#7d7d7d" stroke-width="0.6" />
<line x1="200.01" y1="309.90" x2="200.01" y2="308.60" stroke="#7d7d7d" stroke-width="0.6" />
<line x1="207.41" y1="309.90" x2="207.41" y2="308.60" stroke="#7d7d7d" stroke-width="0.6" />
<line x1="200.01" y1="308.60" x2="207.41" y2="308.60" stroke="#7d7d7d" stroke-width="0.6" />
<line x1="214.82" y1="309.90" x2="214.82" y2="308.60" stroke="#7d7d7d" stroke-width="0.6" />
<line x1="222.22" y1="309.90" x2="222.22" y2="308.60" stroke="#7d7d7d" stroke-width="0.6" />
<line x1="214.82" y1="308.60" x2="222.22" y2="308.60" stroke="#7d7d7d" stroke-width="0.6" />
<line x1="229.63" y1="309.90" x2="229.63" y2="308.60" stroke="#7d7d7d" stroke-width="0.6" />
<line x1="237.03" y1="309.90" x2="237.03" y2="308.60" stroke="#7d7d7d" stroke-width="0.6" />
<line x1="229.63" y1="308.60" x2="237.03" y2="308.60" stroke="#7d7d7d" stroke-width="0.6" />
<line x1="259.25" y1="309.90" x2="259.25" y2="308.60" stroke="#7d7d7d" stroke-width="0.6" />
<line x1="266.65" y1="309.90" x2="266.65" y2="308.60" stroke="#7d7d7d" stroke-width="0.6" />
<line x1="259.25" y1="308.60" x2="266.65" y2="308.60" stroke="#7d7d7d" stroke-width="0.6" />
<line x1="274.06" y1="309.90" x2="274.06" y2="308.60" stroke="#7d7d7d" stroke-width="0.6" />
<line x1="281.46" y1="309.90" x2="281.46" y2="308.60" stroke="#7d7d7d" stroke-width="0.6" />
<line x1="274.06" y1="308.60" x2="281.46" y2="308.60" stroke="#7d7d7d" stroke-width="0.6" />
<line x1="303.68" y1="309.90" x2="303.68" y2="308.60" stroke="#7d7d7d" stroke-width="0.6" />
<line x1="311.08" y1="309.90" x2="311.08" y2="308.60" stroke="#7d7d7d" stroke-width="0.6" />
<line x1="303.68" y1="308.60" x2="311.08" y2="308.60" stroke="#7d7d7d" stroke-width="0.6" />
<line x1="318.49" y1="309.90" x2="318.49" y2="308.60" stroke="#7d7d7d" stroke-width="0.6" />
<line x1="325.89" y1="309.90" x2="325.89" y2="308.60" stroke="#7d7d7d" stroke-width="0.6" />
<line x1="318.49" y1="308.60" x2="325.89" y2="308.60" stroke="#7d7d7d" stroke-width="0.6" />
<line x1="333.30" y1="309.90" x2="333.30" y2="308.60" stroke="#7d7d7d" stroke-width="0.6" />
<line x1="340.70" y1="309.90" x2="340.70" y2="308.60" stroke="#7d7d7d" stroke-width="0.6" />
<line x1="333.30" y1="308.60" x2="340.70" y2="308.60" stroke="#7d7d7d" stroke-width="0.6" />
<line x1="348.11" y1="309.90" x2="348.11" y2="308.60" stroke="#7d7d7d" stroke-width="0.6" />
<line x1="355.51" y1="309.90" x2="355.51" y2="308.60" stroke="#7d7d7d" stroke-width="0.6" />
<line x1="348.11" y1="308.60" x2="355.51" y2="308.60" stroke="#7d7d7d" stroke-width="0.6" />
<line x1="370.32" y1="309.90" x2="370.32" y2="308.60" stroke="#7d7d7d" stroke-width="0.6" />
<line x1="377.73" y1="309.90" x2="377.73" y2="308.60" stroke="#7d7d7d" stroke-width="0.6" />
<line x1="370.32" y1="308.60" x2="377.73" y2="308.60" stroke="#7d7d7d" stroke-width="0.6" />
<line x1="385.60" y1="309.90" x2="385.60" y2="308.60" stroke="#7d7d7d" stroke-width="0.6" />
<line x1="392.90" y1="309.90" x2="392.90" y2="308.60" stroke="#7d7d7d" stroke-width="0.6" />
<line x1="385.60" y1="308.60" x2="392.90" y2="308.60" stroke="#7d7d7d" stroke-width="0.6" />
<line x1="400.20" y1="309.90" x2="400.20" y2="308.60" stroke="#7d7d7d" stroke-width="0.6" />
<line x1="407.50" y1="309.90" x2="407.50" y2="308.60" stroke="#7d7d7d" stroke-width="0.6" />
<line x1="400.20" y1="308.60" x2="407.50" y2="308.60" stroke="#7d7d7d" stroke-width="0.6" />
<line x1="414.80" y1="309.90" x2="414.80" y2="308.60" stroke="#7d7d7d" stroke-width="0.6" />
<line x1="422.10" y1="309.90" x2="422.10" y2="308.60" stroke="#7d7d7d" stroke-width="0.6" />
<line x1="414.80" y1="308.60" x2="422.10" y2="308.60" stroke="#7d7d7d" stroke-width="0.6" />
<line x1="203.71" y1="308.60" x2="203.71" y2="307.60" stroke="#7d7d7d" stroke-width="0.6" />
<line x1="218.52" y1="308.60" x2="218.52" y2="307.60" stroke="#7d7d7d" stroke-width="0.6" />
<line x1="203.71" y1="307.60" x2="218.52" y2="307.60" stroke="#7d7d7d" stroke-width="0.6" />
<line x1="233.33" y1="308.60" x2="233.33" y2="307.80" stroke="#7d7d7d" stroke-width="0.6" />
<line x1="244.44" y1="309.90" x2="244.44" y2="307.80" stroke="#7d7d7d" stroke-width="0.6" />
<line x1="233.33" y1="307.80" x2="244.44" y2="307.80" stroke="#7d7d7d" stroke-width="0.6" />
<line x1="211.12" y1="307.60" x2="211.12" y2="306.90" stroke="#7d7d7d" stroke-width="0.6" />
<line x1="238.89" y1="307.80" x2="238.89" y2="306.90" stroke="#7d7d7d" stroke-width="0.6" />
<line x1="211.12" y1="306.90" x2="238.89" y2="306.90" stroke="#7d7d7d" stroke-width="0.6" />
<line x1="262.95" y1="308.60" x2="262.95" y2="307.20" stroke="#7d7d7d" stroke-width="0.6" />
<line x1="277.76" y1="308.60" x2="277.76" y2="307.20" stroke="#7d7d7d" stroke-width="0.6" />
<line x1="262.95" y1="307.20" x2="277.76" y2="307.20" stroke="#7d7d7d" stroke-width="0.6" />
<line x1="251.84" y1="309.90" x2="251.84" y2="306.20" stroke="#7d7d7d" stroke-width="0.6" />
<line x1="270.36" y1="307.20" x2="270.36" y2="306.20" stroke="#7d7d7d" stroke-width="0.6" />
<line x1="251.84" y1="306.20" x2="270.36" y2="306.20" stroke="#7d7d7d" stroke-width="0.6" />
<line x1="288.87" y1="309.90" x2="288.87" y2="307.80" stroke="#7d7d7d" stroke-width="0.6" />
<line x1="296.27" y1="309.90" x2="296.27" y2="307.80" stroke="#7d7d7d" stroke-width="0.6" />
<line x1="288.87" y1="307.80" x2="296.27" y2="307.80" stroke="#7d7d7d" stroke-width="0.6" />
<line x1="307.38" y1="308.60" x2="307.38" y2="307.20" stroke="#7d7d7d" stroke-width="0.6" />
<line x1="322.19" y1="308.60" x2="322.19" y2="307.20" stroke="#7d7d7d" stroke-width="0.6" />
<line x1="307.38" y1="307.20" x2="322.19" y2="307.20" stroke="#7d7d7d" stroke-width="0.6" />
<line x1="337.00" y1="308.60" x2="337.00" y2="306.20" stroke="#7d7d7d" stroke-width="0.6" />
<line x1="351.81" y1="308.60" x2="351.81" y2="306.20" stroke="#7d7d7d" stroke-width="0.6" />
<line x1="337.00" y1="306.20" x2="351.81" y2="306.20" stroke="#7d7d7d" stroke-width="0.6" />
<line x1="314.79" y1="307.20" x2="314.79" y2="305.20" stroke="#7d7d7d" stroke-width="0.6" />
<line x1="362.92" y1="309.90" x2="362.92" y2="305.20" stroke="#7d7d7d" stroke-width="0.6" />
<line x1="314.79" y1="305.20" x2="362.92" y2="305.20" stroke="#7d7d7d" stroke-width="0.6" />
<line x1="374.03" y1="308.60" x2="374.03" y2="303.50" stroke="#7d7d7d" stroke-width="0.6" />
<line x1="356.40" y1="306.60" x2="356.40" y2="303.50" stroke="#7d7d7d" stroke-width="0.6" />
<line x1="374.03" y1="303.50" x2="356.40" y2="303.50" stroke="#7d7d7d" stroke-width="0.6" />
<line x1="389.25" y1="308.60" x2="389.25" y2="307.50" stroke="#7d7d7d" stroke-width="0.6" />
<line x1="403.85" y1="308.60" x2="403.85" y2="307.50" stroke="#7d7d7d" stroke-width="0.6" />
<line x1="389.25" y1="307.50" x2="403.85" y2="307.50" stroke="#7d7d7d" stroke-width="0.6" />
<line x1="406.85" y1="307.50" x2="406.85" y2="307.20" stroke="#7d7d7d" stroke-width="0.6" />
<line x1="418.45" y1="308.60" x2="418.45" y2="307.20" stroke="#7d7d7d" stroke-width="0.6" />
<line x1="406.85" y1="307.20" x2="418.45" y2="307.20" stroke="#7d7d7d" stroke-width="0.6" />
<line x1="188.90" y1="308.60" x2="188.90" y2="302.30" stroke="#7d7d7d" stroke-width="0.6" />
<line x1="215.00" y1="307.00" x2="215.00" y2="302.30" stroke="#7d7d7d" stroke-width="0.6" />
<line x1="188.90" y1="302.30" x2="215.00" y2="302.30" stroke="#7d7d7d" stroke-width="0.6" />
<line x1="244.30" y1="308.60" x2="244.30" y2="304.30" stroke="#7d7d7d" stroke-width="0.6" />
<line x1="263.20" y1="306.20" x2="263.20" y2="304.30" stroke="#7d7d7d" stroke-width="0.6" />
<line x1="244.30" y1="304.30" x2="263.20" y2="304.30" stroke="#7d7d7d" stroke-width="0.6" />
<line x1="263.20" y1="306.20" x2="263.20" y2="304.40" stroke="#7d7d7d" stroke-width="0.6" />
<line x1="281.40" y1="308.50" x2="281.40" y2="304.40" stroke="#7d7d7d" stroke-width="0.6" />
<line x1="263.20" y1="304.40" x2="281.40" y2="304.40" stroke="#7d7d7d" stroke-width="0.6" />
<line x1="292.57" y1="307.80" x2="292.57" y2="303.00" stroke="#7d7d7d" stroke-width="0.6" />
<line x1="308.80" y1="305.20" x2="308.80" y2="303.00" stroke="#7d7d7d" stroke-width="0.6" />
<line x1="292.57" y1="303.00" x2="308.80" y2="303.00" stroke="#7d7d7d" stroke-width="0.6" />
<line x1="308.80" y1="305.20" x2="308.80" y2="305.20" stroke="#7d7d7d" stroke-width="0.6" />
<line x1="337.80" y1="306.20" x2="337.80" y2="305.20" stroke="#7d7d7d" stroke-width="0.6" />
<line x1="308.80" y1="305.20" x2="337.80" y2="305.20" stroke="#7d7d7d" stroke-width="0.6" />
<line x1="215.00" y1="301.50" x2="395.40" y2="301.50" stroke="#7d7d7d" stroke-width="0.6" />
<line x1="227.70" y1="302.20" x2="317.60" y2="302.20" stroke="#8c8c8c" stroke-width="0.9" />
<line x1="395.40" y1="301.50" x2="395.40" y2="307.40" stroke="#7d7d7d" stroke-width="0.6" />
<line x1="383.50" y1="307.40" x2="417.80" y2="307.40" stroke="#7d7d7d" stroke-width="0.6" />
<line x1="215.00" y1="301.50" x2="215.00" y2="302.30" stroke="#7d7d7d" stroke-width="0.6" />
<line x1="179.30" y1="330.88" x2="176.50" y2="330.88" stroke="#7d7d7d" stroke-width="0.6" />
<line x1="179.30" y1="338.20" x2="176.50" y2="338.20" stroke="#7d7d7d" stroke-width="0.6" />
<line x1="176.50" y1="330.88" x2="176.50" y2="338.20" stroke="#7d7d7d" stroke-width="0.6" />
<line x1="179.30" y1="323.11" x2="172.40" y2="323.11" stroke="#7d7d7d" stroke-width="0.6" />
<line x1="176.50" y1="334.54" x2="172.40" y2="334.54" stroke="#7d7d7d" stroke-width="0.6" />
<line x1="172.40" y1="323.11" x2="172.40" y2="334.54" stroke="#7d7d7d" stroke-width="0.6" />
<line x1="179.30" y1="345.52" x2="177.60" y2="345.52" stroke="#7d7d7d" stroke-width="0.6" />
<line x1="179.30" y1="352.84" x2="177.60" y2="352.84" stroke="#7d7d7d" stroke-width="0.6" />
<line x1="177.60" y1="345.52" x2="177.60" y2="352.84" stroke="#7d7d7d" stroke-width="0.6" />
<line x1="179.30" y1="360.16" x2="178.00" y2="360.16" stroke="#7d7d7d" stroke-width="0.6" />
<line x1="179.30" y1="367.48" x2="178.00" y2="367.48" stroke="#7d7d7d" stroke-width="0.6" />
<line x1="178.00" y1="360.16" x2="178.00" y2="367.48" stroke="#7d7d7d" stroke-width="0.6" />
<line x1="177.60" y1="349.18" x2="175.60" y2="349.18" stroke="#7d7d7d" stroke-width="0.6" />
<line x1="178.00" y1="363.82" x2="175.60" y2="363.82" stroke="#7d7d7d" stroke-width="0.6" />
<line x1="175.60" y1="349.18" x2="175.60" y2="363.82" stroke="#7d7d7d" stroke-width="0.6" />
<line x1="179.30" y1="374.80" x2="177.80" y2="374.80" stroke="#7d7d7d" stroke-width="0.6" />
<line x1="179.30" y1="382.12" x2="177.80" y2="382.12" stroke="#7d7d7d" stroke-width="0.6" />
<line x1="177.80" y1="374.80" x2="177.80" y2="382.12" stroke="#7d7d7d" stroke-width="0.6" />
<line x1="179.30" y1="389.44" x2="177.60" y2="389.44" stroke="#7d7d7d" stroke-width="0.6" />
<line x1="179.30" y1="396.75" x2="177.60" y2="396.75" stroke="#7d7d7d" stroke-width="0.6" />
<line x1="177.60" y1="389.44" x2="177.60" y2="396.75" stroke="#7d7d7d" stroke-width="0.6" />
<line x1="177.80" y1="378.46" x2="176.40" y2="378.46" stroke="#7d7d7d" stroke-width="0.6" />
<line x1="177.60" y1="393.09" x2="176.40" y2="393.09" stroke="#7d7d7d" stroke-width="0.6" />
<line x1="176.40" y1="378.46" x2="176.40" y2="393.09" stroke="#7d7d7d" stroke-width="0.6" />
<line x1="175.60" y1="356.50" x2="174.30" y2="356.50" stroke="#7d7d7d" stroke-width="0.6" />
<line x1="176.40" y1="385.77" x2="174.30" y2="385.77" stroke="#7d7d7d" stroke-width="0.6" />
<line x1="174.30" y1="356.50" x2="174.30" y2="385.77" stroke="#7d7d7d" stroke-width="0.6" />
<line x1="179.30" y1="404.13" x2="177.80" y2="404.13" stroke="#7d7d7d" stroke-width="0.6" />
<line x1="179.30" y1="411.61" x2="177.80" y2="411.61" stroke="#7d7d7d" stroke-width="0.6" />
<line x1="177.80" y1="404.13" x2="177.80" y2="411.61" stroke="#7d7d7d" stroke-width="0.6" />
<line x1="177.80" y1="407.87" x2="177.00" y2="407.87" stroke="#7d7d7d" stroke-width="0.6" />
<line x1="179.30" y1="419.07" x2="177.00" y2="419.07" stroke="#7d7d7d" stroke-width="0.6" />
<line x1="177.00" y1="407.87" x2="177.00" y2="419.07" stroke="#7d7d7d" stroke-width="0.6" />
<line x1="179.30" y1="426.54" x2="178.00" y2="426.54" stroke="#7d7d7d" stroke-width="0.6" />
<line x1="179.30" y1="434.01" x2="178.00" y2="434.01" stroke="#7d7d7d" stroke-width="0.6" />
<line x1="178.00" y1="426.54" x2="178.00" y2="434.01" stroke="#7d7d7d" stroke-width="0.6" />
<line x1="178.00" y1="430.28" x2="177.20" y2="430.28" stroke="#7d7d7d" stroke-width="0.6" />
<line x1="179.30" y1="441.68" x2="177.20" y2="441.68" stroke="#7d7d7d" stroke-width="0.6" />
<line x1="177.20" y1="430.28" x2="177.20" y2="441.68" stroke="#7d7d7d" stroke-width="0.6" />
<line x1="177.00" y1="411.61" x2="176.60" y2="411.61" stroke="#7d7d7d" stroke-width="0.6" />
<line x1="177.20" y1="434.11" x2="176.60" y2="434.11" stroke="#7d7d7d" stroke-width="0.6" />
<line x1="176.60" y1="411.61" x2="176.60" y2="434.11" stroke="#7d7d7d" stroke-width="0.6" />
<line x1="172.40" y1="330.65" x2="172.00" y2="330.65" stroke="#7d7d7d" stroke-width="0.6" />
<line x1="174.30" y1="371.14" x2="172.00" y2="371.14" stroke="#7d7d7d" stroke-width="0.6" />
<line x1="172.00" y1="330.65" x2="172.00" y2="371.14" stroke="#7d7d7d" stroke-width="0.6" />
<line x1="172.00" y1="338.50" x2="170.40" y2="338.50" stroke="#7d7d7d" stroke-width="0.6" />
<line x1="176.60" y1="424.30" x2="170.40" y2="424.30" stroke="#7d7d7d" stroke-width="0.6" />
<line x1="170.40" y1="338.50" x2="170.40" y2="424.30" stroke="#7d7d7d" stroke-width="0.6" />
<line x1="178.20" y1="323.11" x2="179.60" y2="323.11" stroke="#222" stroke-width="0.9" />
<line x1="178.20" y1="330.88" x2="179.60" y2="330.88" stroke="#222" stroke-width="0.9" />
<line x1="178.20" y1="338.20" x2="179.60" y2="338.20" stroke="#222" stroke-width="0.9" />
<line x1="178.20" y1="345.52" x2="179.60" y2="345.52" stroke="#222" stroke-width="0.9" />
<line x1="178.20" y1="352.84" x2="179.60" y2="352.84" stroke="#222" stroke-width="0.9" />
<line x1="178.20" y1="360.16" x2="179.60" y2="360.16" stroke="#222" stroke-width="0.9" />
<line x1="178.20" y1="367.48" x2="179.60" y2="367.48" stroke="#222" stroke-width="0.9" />
<line x1="178.20" y1="374.80" x2="179.60" y2="374.80" stroke="#222" stroke-width="0.9" />
<line x1="178.20" y1="382.12" x2="179.60" y2="382.12" stroke="#222" stroke-width="0.9" />
<line x1="178.20" y1="389.44" x2="179.60" y2="389.44" stroke="#222" stroke-width="0.9" />
<line x1="178.20" y1="396.75" x2="179.60" y2="396.75" stroke="#222" stroke-width="0.9" />
<line x1="178.20" y1="404.13" x2="179.60" y2="404.13" stroke="#222" stroke-width="0.9" />
<line x1="178.20" y1="411.61" x2="179.60" y2="411.61" stroke="#222" stroke-width="0.9" />
<line x1="178.20" y1="419.07" x2="179.60" y2="419.07" stroke="#222" stroke-width="0.9" />
<line x1="178.20" y1="426.54" x2="179.60" y2="426.54" stroke="#222" stroke-width="0.9" />
<line x1="178.20" y1="434.01" x2="179.60" y2="434.01" stroke="#222" stroke-width="0.9" />
<line x1="178.20" y1="441.68" x2="179.60" y2="441.68" stroke="#222" stroke-width="0.9" />
<defs><linearGradient id="cb" x1="0" y1="0" x2="0" y2="1"><stop offset="0" stop-color="#ff7f0e"/><stop offset="0.5" stop-color="#ffffff"/><stop offset="1" stop-color="#1f7ae8"/></linearGradient></defs>
<rect x="145.6" y="339.2" width="5.1" height="74.0" fill="url(#cb)"/>
<line x1="151.40" y1="341.00" x2="152.80" y2="341.00" stroke="#333" stroke-width="0.6" />
<text x="155.90" y="342.80" font-size="5.2" fill="#3a3a3a" stroke="#3a3a3a" stroke-width="0.05">1.4</text>
<line x1="151.40" y1="346.03" x2="152.80" y2="346.03" stroke="#333" stroke-width="0.6" />
<text x="155.90" y="347.83" font-size="5.2" fill="#3a3a3a" stroke="#3a3a3a" stroke-width="0.05">1.2</text>
<line x1="151.40" y1="351.06" x2="152.80" y2="351.06" stroke="#333" stroke-width="0.6" />
<text x="155.90" y="352.86" font-size="5.2" fill="#3a3a3a" stroke="#3a3a3a" stroke-width="0.05">1.0</text>
<line x1="151.40" y1="356.09" x2="152.80" y2="356.09" stroke="#333" stroke-width="0.6" />
<text x="155.90" y="357.89" font-size="5.2" fill="#3a3a3a" stroke="#3a3a3a" stroke-width="0.05">0.8</text>
<line x1="151.40" y1="361.12" x2="152.80" y2="361.12" stroke="#333" stroke-width="0.6" />
<text x="155.90" y="362.92" font-size="5.2" fill="#3a3a3a" stroke="#3a3a3a" stroke-width="0.05">0.6</text>
<line x1="151.40" y1="366.15" x2="152.80" y2="366.15" stroke="#333" stroke-width="0.6" />
<text x="155.90" y="367.95" font-size="5.2" fill="#3a3a3a" stroke="#3a3a3a" stroke-width="0.05">0.4</text>
<line x1="151.40" y1="371.18" x2="152.80" y2="371.18" stroke="#333" stroke-width="0.6" />
<text x="155.90" y="372.98" font-size="5.2" fill="#3a3a3a" stroke="#3a3a3a" stroke-width="0.05">0.2</text>
<line x1="151.40" y1="376.21" x2="152.80" y2="376.21" stroke="#333" stroke-width="0.6" />
<text x="155.90" y="378.01" font-size="5.2" fill="#3a3a3a" stroke="#3a3a3a" stroke-width="0.05">0.0</text>
<line x1="151.40" y1="381.24" x2="152.80" y2="381.24" stroke="#333" stroke-width="0.6" />
<text x="155.90" y="383.04" font-size="5.2" fill="#3a3a3a" stroke="#3a3a3a" stroke-width="0.05">−0.2</text>
<line x1="151.40" y1="386.27" x2="152.80" y2="386.27" stroke="#333" stroke-width="0.6" />
<text x="155.90" y="388.07" font-size="5.2" fill="#3a3a3a" stroke="#3a3a3a" stroke-width="0.05">−0.4</text>
<line x1="151.40" y1="391.30" x2="152.80" y2="391.30" stroke="#333" stroke-width="0.6" />
<text x="155.90" y="393.10" font-size="5.2" fill="#3a3a3a" stroke="#3a3a3a" stroke-width="0.05">−0.6</text>
<line x1="151.40" y1="396.33" x2="152.80" y2="396.33" stroke="#333" stroke-width="0.6" />
<text x="155.90" y="398.13" font-size="5.2" fill="#3a3a3a" stroke="#3a3a3a" stroke-width="0.05">−0.8</text>
<line x1="151.40" y1="401.36" x2="152.80" y2="401.36" stroke="#333" stroke-width="0.6" />
<text x="155.90" y="403.16" font-size="5.2" fill="#3a3a3a" stroke="#3a3a3a" stroke-width="0.05">−1.0</text>
<line x1="151.40" y1="406.39" x2="152.80" y2="406.39" stroke="#333" stroke-width="0.6" />
<text x="155.90" y="408.19" font-size="5.2" fill="#3a3a3a" stroke="#3a3a3a" stroke-width="0.05">−1.2</text>
<line x1="151.40" y1="411.42" x2="152.80" y2="411.42" stroke="#333" stroke-width="0.6" />
<text x="155.90" y="413.22" font-size="5.2" fill="#3a3a3a" stroke="#3a3a3a" stroke-width="0.05">−1.4</text>
<text x="428.10" y="325.31" font-size="6.7" textLength="60.20" lengthAdjust="spacingAndGlyphs" fill="#111" stroke="#111" stroke-width="0.1">Comamonas<tspan dy="-0.9">_</tspan><tspan dy="0.9">​</tspan>genus</text>
<text x="428.10" y="333.08" font-size="6.7" fill="#111" stroke="#111" stroke-width="0.1">Staphylococcus<tspan dy="-0.9">_</tspan><tspan dy="0.9">​</tspan>genus</text>
<text x="428.10" y="340.40" font-size="6.7" fill="#111" stroke="#111" stroke-width="0.1">Cutibacterium<tspan dy="-0.9">_</tspan><tspan dy="0.9">​</tspan>genus</text>
<text x="428.10" y="347.72" font-size="6.7" fill="#111" stroke="#111" stroke-width="0.1">Corynebacterium<tspan dy="-0.9">_</tspan><tspan dy="0.9">​</tspan>genus</text>
<text x="428.10" y="355.04" font-size="6.7" fill="#111" stroke="#111" stroke-width="0.1">Nasal<tspan dy="-0.9">_</tspan><tspan dy="0.9">​</tspan>MUC5AC</text>
<text x="428.10" y="362.36" font-size="6.7" fill="#111" stroke="#111" stroke-width="0.1">Nasal<tspan dy="-0.9">_</tspan><tspan dy="0.9">​</tspan>IL-5</text>
<text x="428.10" y="369.68" font-size="6.7" fill="#111" stroke="#111" stroke-width="0.1">Nasal<tspan dy="-0.9">_</tspan><tspan dy="0.9">​</tspan>total<tspan dy="-0.9">_</tspan><tspan dy="0.9">​</tspan>IgE</text>
<text x="428.10" y="377.00" font-size="6.7" textLength="82.30" lengthAdjust="spacingAndGlyphs" fill="#111" stroke="#111" stroke-width="0.1">Microbiota<tspan dy="-0.9">_</tspan><tspan dy="0.9">​</tspan>alpha<tspan dy="-0.9">_</tspan><tspan dy="0.9">​</tspan>diversity</text>
<text x="428.10" y="384.32" font-size="6.7" fill="#111" stroke="#111" stroke-width="0.1">Nasal<tspan dy="-0.9">_</tspan><tspan dy="0.9">​</tspan>IgA2</text>
<text x="428.10" y="391.64" font-size="6.7" fill="#111" stroke="#111" stroke-width="0.1">Nasal<tspan dy="-0.9">_</tspan><tspan dy="0.9">​</tspan>IgA1</text>
<text x="428.10" y="398.95" font-size="6.7" fill="#111" stroke="#111" stroke-width="0.1">Nasal<tspan dy="-0.9">_</tspan><tspan dy="0.9">​</tspan>total<tspan dy="-0.9">_</tspan><tspan dy="0.9">​</tspan>IgA</text>
<text x="428.10" y="406.33" font-size="6.7" fill="#111" stroke="#111" stroke-width="0.1">Nasal<tspan dy="-0.9">_</tspan><tspan dy="0.9">​</tspan>total<tspan dy="-0.9">_</tspan><tspan dy="0.9">​</tspan>IgM</text>
<text x="428.10" y="413.81" font-size="6.7" fill="#111" stroke="#111" stroke-width="0.1">Nasal<tspan dy="-0.9">_</tspan><tspan dy="0.9">​</tspan>total<tspan dy="-0.9">_</tspan><tspan dy="0.9">​</tspan>IgG</text>
<text x="428.10" y="421.27" font-size="6.7" fill="#111" stroke="#111" stroke-width="0.1">Nasal<tspan dy="-0.9">_</tspan><tspan dy="0.9">​</tspan>total<tspan dy="-0.9">_</tspan><tspan dy="0.9">​</tspan>IgD</text>
<text x="428.10" y="428.74" font-size="6.7" fill="#111" stroke="#111" stroke-width="0.1">Streptococcus<tspan dy="-0.9">_</tspan><tspan dy="0.9">​</tspan>genus</text>
<text x="428.10" y="436.21" font-size="6.7" textLength="85.70" lengthAdjust="spacingAndGlyphs" fill="#111" stroke="#111" stroke-width="0.1">Streptococcus<tspan dy="-0.9">_</tspan><tspan dy="0.9">​</tspan>pneumoniae</text>
<text x="428.10" y="443.88" font-size="6.7" fill="#111" stroke="#111" stroke-width="0.1">Microbiota<tspan dy="-0.9">_</tspan><tspan dy="0.9">​</tspan>beta<tspan dy="-0.9">_</tspan><tspan dy="0.9">​</tspan>diversity</text>
<rect x="61.0" y="486.00" width="9.0" height="8.7" fill="#5b2a7c"/>
<text x="73.00" y="493.00" font-size="7.5" fill="#2a2a2a" stroke="#2a2a2a" stroke-width="0.06">HC</text>
<rect x="61.0" y="497.60" width="9.0" height="8.7" fill="#3bb44a"/>
<text x="73.00" y="504.60" font-size="7.5" fill="#2a2a2a" stroke="#2a2a2a" stroke-width="0.06">SCID other</text>
<rect x="61.0" y="509.20" width="9.0" height="8.7" fill="#c8102e"/>
<text x="73.00" y="516.20" font-size="7.5" fill="#2a2a2a" stroke="#2a2a2a" stroke-width="0.06">GC/JAK3</text>
<rect x="61.0" y="520.80" width="9.0" height="8.7" fill="#174f8a"/>
<text x="73.00" y="527.80" font-size="7.5" fill="#2a2a2a" stroke="#2a2a2a" stroke-width="0.06">GC/JAK3+IgRT</text>
<line x1="309.80" y1="544.90" x2="316.00" y2="468.30" stroke="#000" stroke-width="1.0" />
<line x1="309.80" y1="544.90" x2="410.80" y2="539.80" stroke="#000" stroke-width="1.0" />
<line x1="309.80" y1="544.90" x2="325.20" y2="613.70" stroke="#000" stroke-width="1.0" />
<text x="317.00" y="463.70" font-size="7.0" text-anchor="middle" textLength="28.60" lengthAdjust="spacingAndGlyphs" fill="#222" stroke="#222" stroke-width="0.08">2 (18 %)</text>
<text x="413.70" y="542.30" font-size="7.0" textLength="27.80" lengthAdjust="spacingAndGlyphs" fill="#222" stroke="#222" stroke-width="0.08">1 (38 %)</text>
<text x="326.80" y="625.40" font-size="7.0" text-anchor="middle" textLength="28.30" lengthAdjust="spacingAndGlyphs" fill="#222" stroke="#222" stroke-width="0.08">3 (10 %)</text>
<ellipse cx="231.8" cy="548.2" rx="40.6" ry="17.6" fill="none" stroke="#c8102e" stroke-width="1.2" stroke-dasharray="2.2 1.5"/>
<circle cx="218.30" cy="542.70" r="3.5" fill="#c8102e"/>
<circle cx="230.80" cy="545.60" r="3.5" fill="#c8102e"/>
<circle cx="210.00" cy="552.70" r="3.5" fill="#c8102e"/>
<circle cx="219.20" cy="557.50" r="3.5" fill="#c8102e"/>
<circle cx="236.50" cy="551.30" r="3.5" fill="#c8102e"/>
<circle cx="241.90" cy="549.40" r="3.5" fill="#c8102e"/>
<circle cx="260.00" cy="543.70" r="3.5" fill="#c8102e"/>
<circle cx="316.90" cy="501.00" r="3.5" fill="#5b2a7c"/>
<circle cx="309.20" cy="509.60" r="3.5" fill="#5b2a7c"/>
<circle cx="316.30" cy="512.90" r="3.5" fill="#5b2a7c"/>
<circle cx="311.20" cy="518.30" r="3.5" fill="#5b2a7c"/>
<circle cx="308.30" cy="526.90" r="3.5" fill="#3bb44a"/>
<circle cx="336.20" cy="512.10" r="3.5" fill="#5b2a7c"/>
<circle cx="342.90" cy="512.50" r="3.5" fill="#5b2a7c"/>
<circle cx="344.20" cy="517.30" r="3.5" fill="#5b2a7c"/>
<circle cx="328.50" cy="527.30" r="3.5" fill="#5b2a7c"/>
<circle cx="332.90" cy="534.00" r="3.5" fill="#5b2a7c"/>
<circle cx="354.80" cy="528.80" r="3.5" fill="#5b2a7c"/>
<circle cx="346.70" cy="533.70" r="3.5" fill="#5b2a7c"/>
<circle cx="347.10" cy="538.30" r="3.5" fill="#5b2a7c"/>
<circle cx="323.70" cy="542.20" r="3.5" fill="#3bb44a"/>
<circle cx="323.70" cy="538.80" r="3.5" fill="#174f8a"/>
<circle cx="335.60" cy="539.30" r="3.5" fill="#3bb44a"/>
<circle cx="300.00" cy="556.30" r="3.5" fill="#174f8a"/>
<circle cx="291.00" cy="560.20" r="3.5" fill="#174f8a"/>
<circle cx="320.40" cy="562.30" r="3.5" fill="#3bb44a"/>
<circle cx="329.40" cy="561.20" r="3.5" fill="#174f8a"/>
<circle cx="337.50" cy="559.20" r="3.5" fill="#3bb44a"/>
<circle cx="321.30" cy="570.40" r="3.5" fill="#3bb44a"/>
<circle cx="323.10" cy="575.60" r="3.5" fill="#3bb44a"/>
<circle cx="336.20" cy="576.70" r="3.5" fill="#3bb44a"/>
<circle cx="333.70" cy="587.10" r="3.5" fill="#3bb44a"/>
<circle cx="335.60" cy="593.10" r="3.5" fill="#174f8a"/>
<circle cx="331.00" cy="598.30" r="3.5" fill="#174f8a"/>
</g>
<rect x="0.75" y="0.75" width="518.5" height="631.5" fill="none" stroke="#000" stroke-width="1.5"/>
</svg></body></html>
